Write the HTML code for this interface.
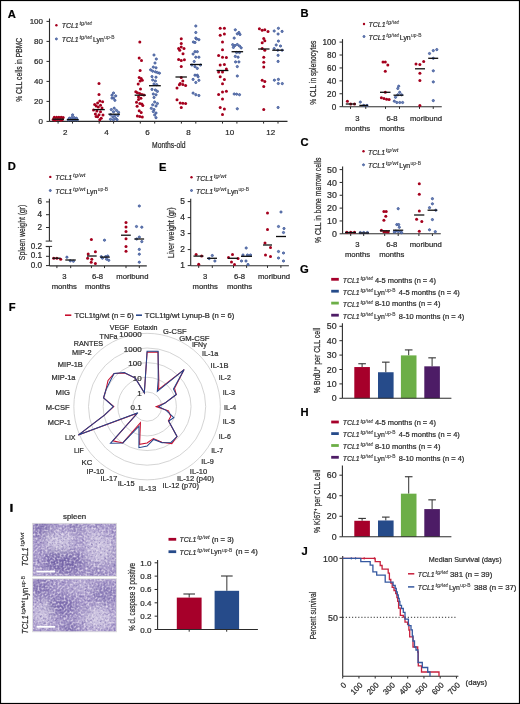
<!DOCTYPE html>
<html><head><meta charset="utf-8"><style>html,body{margin:0;padding:0;background:#fff;}svg{display:block;}</style></head>
<body>
<svg width="520" height="704" viewBox="0 0 520 704" font-family='"Liberation Sans", sans-serif' fill="#2a2a2a">
<style>text{stroke:#2a2a2a;stroke-width:0.22px;paint-order:stroke;} text.sup{stroke-width:0.06px;}</style>
<defs><filter id="fine" x="0" y="0" width="100%" height="100%" color-interpolation-filters="sRGB"><feTurbulence type="fractalNoise" baseFrequency="0.5" numOctaves="2" seed="2" result="n1"/><feColorMatrix in="n1" type="matrix" values="0 0 0 0 0.93  0 0 0 0 0.9  0 0 0 0 0.95  2.1 0 0 0 -0.86" result="wl"/><feTurbulence type="fractalNoise" baseFrequency="0.45" numOctaves="2" seed="9" result="n3"/><feColorMatrix in="n3" type="matrix" values="0 0 0 0 0.45  0 0 0 0 0.39  0 0 0 0 0.65  0 0 1.8 0 -0.83" result="dl"/><feMerge result="m"><feMergeNode in="dl"/><feMergeNode in="wl"/></feMerge><feGaussianBlur in="m" stdDeviation="0.45"/></filter><filter id="soft" x="-50%" y="-50%" width="200%" height="200%"><feGaussianBlur stdDeviation="4.5"/></filter><clipPath id="hc1"><rect x="32.6" y="523.3" width="84" height="53"/></clipPath><clipPath id="hc2"><rect x="32.6" y="578.8" width="84" height="53"/></clipPath><filter id="soften" x="0" y="0" width="100%" height="100%"><feGaussianBlur stdDeviation="0.3"/></filter></defs>
<rect x="0" y="0" width="520" height="704" fill="#fff"/>
<g filter="url(#soften)">
<text x="7.7" y="17.5" font-size="11.2" font-weight="bold" fill="#000" >A</text>
<line x1="49.5" y1="18.5" x2="49.5" y2="121.4" stroke="#2b2b2b" stroke-width="1.1" />
<line x1="46.5" y1="121.4" x2="49.5" y2="121.4" stroke="#2b2b2b" stroke-width="1" />
<text x="43" y="124.4" font-size="8" text-anchor="end" >0</text>
<line x1="46.5" y1="101.4" x2="49.5" y2="101.4" stroke="#2b2b2b" stroke-width="1" />
<text x="43" y="104.4" font-size="8" text-anchor="end" >20</text>
<line x1="46.5" y1="81.4" x2="49.5" y2="81.4" stroke="#2b2b2b" stroke-width="1" />
<text x="43" y="84.4" font-size="8" text-anchor="end" >40</text>
<line x1="46.5" y1="61.4" x2="49.5" y2="61.4" stroke="#2b2b2b" stroke-width="1" />
<text x="43" y="64.4" font-size="8" text-anchor="end" >60</text>
<line x1="46.5" y1="41.4" x2="49.5" y2="41.4" stroke="#2b2b2b" stroke-width="1" />
<text x="43" y="44.4" font-size="8" text-anchor="end" >80</text>
<line x1="46.5" y1="21.4" x2="49.5" y2="21.4" stroke="#2b2b2b" stroke-width="1" />
<text x="43" y="24.4" font-size="8" text-anchor="end" >100</text>
<line x1="49.5" y1="121.4" x2="287.5" y2="121.4" stroke="#2b2b2b" stroke-width="1.1" />
<line x1="58.1" y1="121.4" x2="58.1" y2="123.6" stroke="#2b2b2b" stroke-width="1" />
<line x1="72.5" y1="121.4" x2="72.5" y2="123.6" stroke="#2b2b2b" stroke-width="1" />
<line x1="99.2" y1="121.4" x2="99.2" y2="123.6" stroke="#2b2b2b" stroke-width="1" />
<line x1="113.6" y1="121.4" x2="113.6" y2="123.6" stroke="#2b2b2b" stroke-width="1" />
<line x1="140.3" y1="121.4" x2="140.3" y2="123.6" stroke="#2b2b2b" stroke-width="1" />
<line x1="154.7" y1="121.4" x2="154.7" y2="123.6" stroke="#2b2b2b" stroke-width="1" />
<line x1="181.4" y1="121.4" x2="181.4" y2="123.6" stroke="#2b2b2b" stroke-width="1" />
<line x1="195.8" y1="121.4" x2="195.8" y2="123.6" stroke="#2b2b2b" stroke-width="1" />
<line x1="222.5" y1="121.4" x2="222.5" y2="123.6" stroke="#2b2b2b" stroke-width="1" />
<line x1="236.9" y1="121.4" x2="236.9" y2="123.6" stroke="#2b2b2b" stroke-width="1" />
<line x1="263.6" y1="121.4" x2="263.6" y2="123.6" stroke="#2b2b2b" stroke-width="1" />
<line x1="278" y1="121.4" x2="278" y2="123.6" stroke="#2b2b2b" stroke-width="1" />
<text x="65.3" y="135.2" font-size="8" text-anchor="middle" >2</text>
<text x="106.4" y="135.2" font-size="8" text-anchor="middle" >4</text>
<text x="147.5" y="135.2" font-size="8" text-anchor="middle" >6</text>
<text x="188.6" y="135.2" font-size="8" text-anchor="middle" >8</text>
<text x="229.7" y="135.2" font-size="8" text-anchor="middle" >10</text>
<text x="270.8" y="135.2" font-size="8" text-anchor="middle" >12</text>
<text x="168.8" y="147.6" font-size="9" text-anchor="middle" textLength="33.5" lengthAdjust="spacingAndGlyphs" >Months-old</text>
<text x="22.4" y="69.8" font-size="9" text-anchor="middle" textLength="64" lengthAdjust="spacingAndGlyphs" transform="rotate(-90 22.4 69.8)" >% CLL cells in PBMC</text>
<circle cx="56.4" cy="25.2" r="1.2" fill="#a5001f"/>
<g transform="translate(61.9 28.2)"><text x="-0.2" y="0.1" font-size="8" font-style="italic" textLength="16.9" lengthAdjust="spacingAndGlyphs">TCL1</text><text x="17.5" y="-2.8" font-size="5.4" font-style="italic" class="sup" textLength="12.5" lengthAdjust="spacingAndGlyphs">tg/wt</text></g>
<circle cx="56.4" cy="38.9" r="1.0" fill="#6e84b8" stroke="#40599a" stroke-width="0.9"/>
<g transform="translate(61.9 41.8)"><text x="-0.2" y="0.1" font-size="8" font-style="italic" textLength="16.9" lengthAdjust="spacingAndGlyphs">TCL1</text><text x="17.5" y="-2.8" font-size="5.4" font-style="italic" class="sup" textLength="12.5" lengthAdjust="spacingAndGlyphs">tg/wt</text><text x="31" y="0" font-size="7.7" textLength="10.9" lengthAdjust="spacingAndGlyphs">Lyn</text><text x="42.3" y="-2.8" font-size="5.4" class="sup" textLength="10.3" lengthAdjust="spacingAndGlyphs">up-B</text></g>
<circle cx="53.2" cy="119.5" r="1.5" fill="#a5001f"/>
<circle cx="55.5" cy="119.5" r="1.5" fill="#a5001f"/>
<circle cx="57.8" cy="119.5" r="1.5" fill="#a5001f"/>
<circle cx="60.1" cy="119.5" r="1.5" fill="#a5001f"/>
<circle cx="62.4" cy="119.5" r="1.5" fill="#a5001f"/>
<circle cx="54.3" cy="117.2" r="1.5" fill="#a5001f"/>
<circle cx="56.6" cy="117.2" r="1.5" fill="#a5001f"/>
<circle cx="58.9" cy="117.2" r="1.5" fill="#a5001f"/>
<circle cx="61.2" cy="117.2" r="1.5" fill="#a5001f"/>
<circle cx="63.2" cy="117.6" r="1.5" fill="#a5001f"/>
<circle cx="55" cy="120.3" r="1.5" fill="#a5001f"/>
<circle cx="61" cy="120.3" r="1.5" fill="#a5001f"/>
<circle cx="68.2" cy="119.8" r="1.1" fill="#6e84b8" stroke="#40599a" stroke-width="0.9"/>
<circle cx="70.5" cy="119.8" r="1.1" fill="#6e84b8" stroke="#40599a" stroke-width="0.9"/>
<circle cx="72.8" cy="119.8" r="1.1" fill="#6e84b8" stroke="#40599a" stroke-width="0.9"/>
<circle cx="75.1" cy="119.8" r="1.1" fill="#6e84b8" stroke="#40599a" stroke-width="0.9"/>
<circle cx="77.4" cy="119.8" r="1.1" fill="#6e84b8" stroke="#40599a" stroke-width="0.9"/>
<circle cx="69.5" cy="118.2" r="1.1" fill="#6e84b8" stroke="#40599a" stroke-width="0.9"/>
<circle cx="71.8" cy="117.6" r="1.1" fill="#6e84b8" stroke="#40599a" stroke-width="0.9"/>
<circle cx="74.1" cy="117.6" r="1.1" fill="#6e84b8" stroke="#40599a" stroke-width="0.9"/>
<circle cx="76.4" cy="118.2" r="1.1" fill="#6e84b8" stroke="#40599a" stroke-width="0.9"/>
<circle cx="72.6" cy="114.9" r="1.1" fill="#6e84b8" stroke="#40599a" stroke-width="0.9"/>
<circle cx="99" cy="83.4" r="1.5" fill="#a5001f"/>
<circle cx="99" cy="94.5" r="1.5" fill="#a5001f"/>
<circle cx="99.8" cy="101" r="1.5" fill="#a5001f"/>
<circle cx="97.6" cy="103.1" r="1.5" fill="#a5001f"/>
<circle cx="102.6" cy="101.7" r="1.5" fill="#a5001f"/>
<circle cx="94.7" cy="104.6" r="1.5" fill="#a5001f"/>
<circle cx="100.5" cy="105.3" r="1.5" fill="#a5001f"/>
<circle cx="96.2" cy="106.1" r="1.5" fill="#a5001f"/>
<circle cx="98.3" cy="107" r="1.5" fill="#a5001f"/>
<circle cx="96.9" cy="111.1" r="1.5" fill="#a5001f"/>
<circle cx="100.5" cy="111.8" r="1.5" fill="#a5001f"/>
<circle cx="95.4" cy="114" r="1.5" fill="#a5001f"/>
<circle cx="99" cy="114.7" r="1.5" fill="#a5001f"/>
<circle cx="97.6" cy="116.8" r="1.5" fill="#a5001f"/>
<circle cx="101.2" cy="118.3" r="1.5" fill="#a5001f"/>
<circle cx="96.1" cy="116.5" r="1.5" fill="#a5001f"/>
<circle cx="99.8" cy="119.7" r="1.5" fill="#a5001f"/>
<circle cx="103" cy="115" r="1.5" fill="#a5001f"/>
<circle cx="93.5" cy="110" r="1.5" fill="#a5001f"/>
<circle cx="102" cy="108" r="1.5" fill="#a5001f"/>
<circle cx="113.5" cy="93" r="1.1" fill="#6e84b8" stroke="#40599a" stroke-width="0.9"/>
<circle cx="112" cy="95.2" r="1.1" fill="#6e84b8" stroke="#40599a" stroke-width="0.9"/>
<circle cx="115.7" cy="95.9" r="1.1" fill="#6e84b8" stroke="#40599a" stroke-width="0.9"/>
<circle cx="113.5" cy="98.1" r="1.1" fill="#6e84b8" stroke="#40599a" stroke-width="0.9"/>
<circle cx="114.9" cy="100.3" r="1.1" fill="#6e84b8" stroke="#40599a" stroke-width="0.9"/>
<circle cx="112" cy="98.1" r="1.1" fill="#6e84b8" stroke="#40599a" stroke-width="0.9"/>
<circle cx="114.2" cy="108.2" r="1.1" fill="#6e84b8" stroke="#40599a" stroke-width="0.9"/>
<circle cx="111.3" cy="109.6" r="1.1" fill="#6e84b8" stroke="#40599a" stroke-width="0.9"/>
<circle cx="116.4" cy="110.4" r="1.1" fill="#6e84b8" stroke="#40599a" stroke-width="0.9"/>
<circle cx="113.5" cy="111.8" r="1.1" fill="#6e84b8" stroke="#40599a" stroke-width="0.9"/>
<circle cx="110.6" cy="114.7" r="1.1" fill="#6e84b8" stroke="#40599a" stroke-width="0.9"/>
<circle cx="114.9" cy="115.4" r="1.1" fill="#6e84b8" stroke="#40599a" stroke-width="0.9"/>
<circle cx="117.8" cy="115.4" r="1.1" fill="#6e84b8" stroke="#40599a" stroke-width="0.9"/>
<circle cx="112.8" cy="116.8" r="1.1" fill="#6e84b8" stroke="#40599a" stroke-width="0.9"/>
<circle cx="115.6" cy="118.3" r="1.1" fill="#6e84b8" stroke="#40599a" stroke-width="0.9"/>
<circle cx="113.5" cy="119.7" r="1.1" fill="#6e84b8" stroke="#40599a" stroke-width="0.9"/>
<circle cx="117.1" cy="119.7" r="1.1" fill="#6e84b8" stroke="#40599a" stroke-width="0.9"/>
<circle cx="110.5" cy="119.3" r="1.1" fill="#6e84b8" stroke="#40599a" stroke-width="0.9"/>
<circle cx="118.5" cy="112.3" r="1.1" fill="#6e84b8" stroke="#40599a" stroke-width="0.9"/>
<circle cx="139.8" cy="42.1" r="1.5" fill="#a5001f"/>
<circle cx="139.2" cy="58.1" r="1.5" fill="#a5001f"/>
<circle cx="141.5" cy="60.4" r="1.5" fill="#a5001f"/>
<circle cx="140.1" cy="70.5" r="1.5" fill="#a5001f"/>
<circle cx="139.2" cy="77.5" r="1.5" fill="#a5001f"/>
<circle cx="141.2" cy="78.6" r="1.5" fill="#a5001f"/>
<circle cx="142.3" cy="80.2" r="1.5" fill="#a5001f"/>
<circle cx="140.1" cy="81" r="1.5" fill="#a5001f"/>
<circle cx="138.2" cy="84" r="1.5" fill="#a5001f"/>
<circle cx="140.5" cy="89.1" r="1.5" fill="#a5001f"/>
<circle cx="135.8" cy="91.8" r="1.5" fill="#a5001f"/>
<circle cx="137.4" cy="92.8" r="1.5" fill="#a5001f"/>
<circle cx="139.6" cy="93.4" r="1.5" fill="#a5001f"/>
<circle cx="141.9" cy="94.5" r="1.5" fill="#a5001f"/>
<circle cx="143.9" cy="95" r="1.5" fill="#a5001f"/>
<circle cx="138.5" cy="96.8" r="1.5" fill="#a5001f"/>
<circle cx="140.9" cy="98.2" r="1.5" fill="#a5001f"/>
<circle cx="138.5" cy="99.5" r="1.5" fill="#a5001f"/>
<circle cx="136.5" cy="102.2" r="1.5" fill="#a5001f"/>
<circle cx="139.8" cy="103.5" r="1.5" fill="#a5001f"/>
<circle cx="141.9" cy="104" r="1.5" fill="#a5001f"/>
<circle cx="137.1" cy="106.2" r="1.5" fill="#a5001f"/>
<circle cx="142.8" cy="105.6" r="1.5" fill="#a5001f"/>
<circle cx="139.2" cy="110.7" r="1.5" fill="#a5001f"/>
<circle cx="141.2" cy="112.6" r="1.5" fill="#a5001f"/>
<circle cx="137.4" cy="116.1" r="1.5" fill="#a5001f"/>
<circle cx="139.8" cy="116.6" r="1.5" fill="#a5001f"/>
<circle cx="142.3" cy="117" r="1.5" fill="#a5001f"/>
<circle cx="154" cy="55" r="1.1" fill="#6e84b8" stroke="#40599a" stroke-width="0.9"/>
<circle cx="156.3" cy="59" r="1.1" fill="#6e84b8" stroke="#40599a" stroke-width="0.9"/>
<circle cx="155" cy="63" r="1.1" fill="#6e84b8" stroke="#40599a" stroke-width="0.9"/>
<circle cx="153.3" cy="67.1" r="1.1" fill="#6e84b8" stroke="#40599a" stroke-width="0.9"/>
<circle cx="156" cy="67.8" r="1.1" fill="#6e84b8" stroke="#40599a" stroke-width="0.9"/>
<circle cx="150.6" cy="69.8" r="1.1" fill="#6e84b8" stroke="#40599a" stroke-width="0.9"/>
<circle cx="152.7" cy="71.2" r="1.1" fill="#6e84b8" stroke="#40599a" stroke-width="0.9"/>
<circle cx="155.4" cy="71.8" r="1.1" fill="#6e84b8" stroke="#40599a" stroke-width="0.9"/>
<circle cx="157.4" cy="72.5" r="1.1" fill="#6e84b8" stroke="#40599a" stroke-width="0.9"/>
<circle cx="159.4" cy="73.2" r="1.1" fill="#6e84b8" stroke="#40599a" stroke-width="0.9"/>
<circle cx="152" cy="76.6" r="1.1" fill="#6e84b8" stroke="#40599a" stroke-width="0.9"/>
<circle cx="156" cy="77.2" r="1.1" fill="#6e84b8" stroke="#40599a" stroke-width="0.9"/>
<circle cx="152.7" cy="80" r="1.1" fill="#6e84b8" stroke="#40599a" stroke-width="0.9"/>
<circle cx="155.4" cy="81" r="1.1" fill="#6e84b8" stroke="#40599a" stroke-width="0.9"/>
<circle cx="154" cy="84" r="1.1" fill="#6e84b8" stroke="#40599a" stroke-width="0.9"/>
<circle cx="156.7" cy="84.7" r="1.1" fill="#6e84b8" stroke="#40599a" stroke-width="0.9"/>
<circle cx="152" cy="89.4" r="1.1" fill="#6e84b8" stroke="#40599a" stroke-width="0.9"/>
<circle cx="155.4" cy="90" r="1.1" fill="#6e84b8" stroke="#40599a" stroke-width="0.9"/>
<circle cx="157.4" cy="91.4" r="1.1" fill="#6e84b8" stroke="#40599a" stroke-width="0.9"/>
<circle cx="153.3" cy="94" r="1.1" fill="#6e84b8" stroke="#40599a" stroke-width="0.9"/>
<circle cx="156" cy="94.8" r="1.1" fill="#6e84b8" stroke="#40599a" stroke-width="0.9"/>
<circle cx="154" cy="97.5" r="1.1" fill="#6e84b8" stroke="#40599a" stroke-width="0.9"/>
<circle cx="154.7" cy="102" r="1.1" fill="#6e84b8" stroke="#40599a" stroke-width="0.9"/>
<circle cx="157.4" cy="103.5" r="1.1" fill="#6e84b8" stroke="#40599a" stroke-width="0.9"/>
<circle cx="152.7" cy="104.8" r="1.1" fill="#6e84b8" stroke="#40599a" stroke-width="0.9"/>
<circle cx="156" cy="106" r="1.1" fill="#6e84b8" stroke="#40599a" stroke-width="0.9"/>
<circle cx="151.3" cy="108.3" r="1.1" fill="#6e84b8" stroke="#40599a" stroke-width="0.9"/>
<circle cx="154" cy="109.6" r="1.1" fill="#6e84b8" stroke="#40599a" stroke-width="0.9"/>
<circle cx="153.3" cy="111.6" r="1.1" fill="#6e84b8" stroke="#40599a" stroke-width="0.9"/>
<circle cx="156" cy="113" r="1.1" fill="#6e84b8" stroke="#40599a" stroke-width="0.9"/>
<circle cx="154.7" cy="115" r="1.1" fill="#6e84b8" stroke="#40599a" stroke-width="0.9"/>
<circle cx="156" cy="117.7" r="1.1" fill="#6e84b8" stroke="#40599a" stroke-width="0.9"/>
<circle cx="181.25" cy="38.75" r="1.5" fill="#a5001f"/>
<circle cx="181.25" cy="43.4" r="1.5" fill="#a5001f"/>
<circle cx="181.25" cy="47" r="1.5" fill="#a5001f"/>
<circle cx="178.6" cy="48.6" r="1.5" fill="#a5001f"/>
<circle cx="184" cy="48.6" r="1.5" fill="#a5001f"/>
<circle cx="179.7" cy="50.2" r="1.5" fill="#a5001f"/>
<circle cx="183" cy="53.75" r="1.5" fill="#a5001f"/>
<circle cx="178.6" cy="59.5" r="1.5" fill="#a5001f"/>
<circle cx="181.25" cy="60.5" r="1.5" fill="#a5001f"/>
<circle cx="184.4" cy="59.8" r="1.5" fill="#a5001f"/>
<circle cx="181.25" cy="66.5" r="1.5" fill="#a5001f"/>
<circle cx="181.25" cy="77.5" r="1.5" fill="#a5001f"/>
<circle cx="182.8" cy="81" r="1.5" fill="#a5001f"/>
<circle cx="180.2" cy="83.5" r="1.5" fill="#a5001f"/>
<circle cx="182.8" cy="84.6" r="1.5" fill="#a5001f"/>
<circle cx="185.6" cy="85.6" r="1.5" fill="#a5001f"/>
<circle cx="179.4" cy="84.8" r="1.5" fill="#a5001f"/>
<circle cx="177" cy="88" r="1.5" fill="#a5001f"/>
<circle cx="177" cy="99.7" r="1.5" fill="#a5001f"/>
<circle cx="180.2" cy="103" r="1.5" fill="#a5001f"/>
<circle cx="182.8" cy="103.3" r="1.5" fill="#a5001f"/>
<circle cx="185.6" cy="103.5" r="1.5" fill="#a5001f"/>
<circle cx="181.25" cy="107.5" r="1.5" fill="#a5001f"/>
<circle cx="195.8" cy="26" r="1.1" fill="#6e84b8" stroke="#40599a" stroke-width="0.9"/>
<circle cx="195.8" cy="32.5" r="1.1" fill="#6e84b8" stroke="#40599a" stroke-width="0.9"/>
<circle cx="195.8" cy="38.1" r="1.1" fill="#6e84b8" stroke="#40599a" stroke-width="0.9"/>
<circle cx="198.9" cy="39.7" r="1.1" fill="#6e84b8" stroke="#40599a" stroke-width="0.9"/>
<circle cx="196.6" cy="39" r="1.1" fill="#6e84b8" stroke="#40599a" stroke-width="0.9"/>
<circle cx="193.4" cy="42" r="1.1" fill="#6e84b8" stroke="#40599a" stroke-width="0.9"/>
<circle cx="195" cy="42.5" r="1.1" fill="#6e84b8" stroke="#40599a" stroke-width="0.9"/>
<circle cx="195" cy="51.7" r="1.1" fill="#6e84b8" stroke="#40599a" stroke-width="0.9"/>
<circle cx="197.3" cy="51.7" r="1.1" fill="#6e84b8" stroke="#40599a" stroke-width="0.9"/>
<circle cx="193.1" cy="54" r="1.1" fill="#6e84b8" stroke="#40599a" stroke-width="0.9"/>
<circle cx="195.8" cy="57.2" r="1.1" fill="#6e84b8" stroke="#40599a" stroke-width="0.9"/>
<circle cx="198.9" cy="57.2" r="1.1" fill="#6e84b8" stroke="#40599a" stroke-width="0.9"/>
<circle cx="194.2" cy="61.5" r="1.1" fill="#6e84b8" stroke="#40599a" stroke-width="0.9"/>
<circle cx="191.9" cy="65" r="1.1" fill="#6e84b8" stroke="#40599a" stroke-width="0.9"/>
<circle cx="200.5" cy="65" r="1.1" fill="#6e84b8" stroke="#40599a" stroke-width="0.9"/>
<circle cx="195" cy="66.6" r="1.1" fill="#6e84b8" stroke="#40599a" stroke-width="0.9"/>
<circle cx="197.3" cy="68.4" r="1.1" fill="#6e84b8" stroke="#40599a" stroke-width="0.9"/>
<circle cx="195" cy="75.2" r="1.1" fill="#6e84b8" stroke="#40599a" stroke-width="0.9"/>
<circle cx="197.3" cy="75.2" r="1.1" fill="#6e84b8" stroke="#40599a" stroke-width="0.9"/>
<circle cx="198.1" cy="76.7" r="1.1" fill="#6e84b8" stroke="#40599a" stroke-width="0.9"/>
<circle cx="193.1" cy="79.4" r="1.1" fill="#6e84b8" stroke="#40599a" stroke-width="0.9"/>
<circle cx="198.9" cy="80.3" r="1.1" fill="#6e84b8" stroke="#40599a" stroke-width="0.9"/>
<circle cx="195.8" cy="82.5" r="1.1" fill="#6e84b8" stroke="#40599a" stroke-width="0.9"/>
<circle cx="193.1" cy="93.1" r="1.1" fill="#6e84b8" stroke="#40599a" stroke-width="0.9"/>
<circle cx="195.8" cy="94.7" r="1.1" fill="#6e84b8" stroke="#40599a" stroke-width="0.9"/>
<circle cx="198.9" cy="95.5" r="1.1" fill="#6e84b8" stroke="#40599a" stroke-width="0.9"/>
<circle cx="220.2" cy="28.3" r="1.5" fill="#a5001f"/>
<circle cx="224.4" cy="28.3" r="1.5" fill="#a5001f"/>
<circle cx="220.2" cy="35.3" r="1.5" fill="#a5001f"/>
<circle cx="224.4" cy="34" r="1.5" fill="#a5001f"/>
<circle cx="222.5" cy="41.9" r="1.5" fill="#a5001f"/>
<circle cx="222.5" cy="49.7" r="1.5" fill="#a5001f"/>
<circle cx="218.6" cy="55.6" r="1.5" fill="#a5001f"/>
<circle cx="222.5" cy="57.2" r="1.5" fill="#a5001f"/>
<circle cx="226.4" cy="57.6" r="1.5" fill="#a5001f"/>
<circle cx="220.2" cy="65" r="1.5" fill="#a5001f"/>
<circle cx="224.4" cy="64.5" r="1.5" fill="#a5001f"/>
<circle cx="226.4" cy="69" r="1.5" fill="#a5001f"/>
<circle cx="218.6" cy="72" r="1.5" fill="#a5001f"/>
<circle cx="222.5" cy="72" r="1.5" fill="#a5001f"/>
<circle cx="220.2" cy="76.7" r="1.5" fill="#a5001f"/>
<circle cx="224.4" cy="79.4" r="1.5" fill="#a5001f"/>
<circle cx="222.5" cy="83.75" r="1.5" fill="#a5001f"/>
<circle cx="226.4" cy="91.2" r="1.5" fill="#a5001f"/>
<circle cx="222.5" cy="91.9" r="1.5" fill="#a5001f"/>
<circle cx="218.6" cy="94.4" r="1.5" fill="#a5001f"/>
<circle cx="222.5" cy="98.9" r="1.5" fill="#a5001f"/>
<circle cx="220.2" cy="107.5" r="1.5" fill="#a5001f"/>
<circle cx="224.4" cy="109.1" r="1.5" fill="#a5001f"/>
<circle cx="222.5" cy="114.4" r="1.5" fill="#a5001f"/>
<circle cx="259.4" cy="28.75" r="1.5" fill="#a5001f"/>
<circle cx="262.2" cy="30.3" r="1.5" fill="#a5001f"/>
<circle cx="264.8" cy="29.8" r="1.5" fill="#a5001f"/>
<circle cx="268" cy="31.4" r="1.5" fill="#a5001f"/>
<circle cx="263.75" cy="38.4" r="1.5" fill="#a5001f"/>
<circle cx="264.8" cy="40.8" r="1.5" fill="#a5001f"/>
<circle cx="262.2" cy="42.8" r="1.5" fill="#a5001f"/>
<circle cx="262.2" cy="48.6" r="1.5" fill="#a5001f"/>
<circle cx="264.8" cy="50.2" r="1.5" fill="#a5001f"/>
<circle cx="263.75" cy="57.2" r="1.5" fill="#a5001f"/>
<circle cx="263.75" cy="62.3" r="1.5" fill="#a5001f"/>
<circle cx="263.75" cy="66.9" r="1.5" fill="#a5001f"/>
<circle cx="262.2" cy="80.3" r="1.5" fill="#a5001f"/>
<circle cx="264.8" cy="81.4" r="1.5" fill="#a5001f"/>
<circle cx="263.75" cy="86.6" r="1.5" fill="#a5001f"/>
<circle cx="263.75" cy="109.5" r="1.5" fill="#a5001f"/>
<circle cx="278.4" cy="28.3" r="1.1" fill="#6e84b8" stroke="#40599a" stroke-width="0.9"/>
<circle cx="274.2" cy="31" r="1.1" fill="#6e84b8" stroke="#40599a" stroke-width="0.9"/>
<circle cx="282.1" cy="31.4" r="1.1" fill="#6e84b8" stroke="#40599a" stroke-width="0.9"/>
<circle cx="278.1" cy="34" r="1.1" fill="#6e84b8" stroke="#40599a" stroke-width="0.9"/>
<circle cx="278.4" cy="41.1" r="1.1" fill="#6e84b8" stroke="#40599a" stroke-width="0.9"/>
<circle cx="276.2" cy="45" r="1.1" fill="#6e84b8" stroke="#40599a" stroke-width="0.9"/>
<circle cx="280.5" cy="46" r="1.1" fill="#6e84b8" stroke="#40599a" stroke-width="0.9"/>
<circle cx="274.2" cy="48.6" r="1.1" fill="#6e84b8" stroke="#40599a" stroke-width="0.9"/>
<circle cx="277.8" cy="50.2" r="1.1" fill="#6e84b8" stroke="#40599a" stroke-width="0.9"/>
<circle cx="282.1" cy="50.2" r="1.1" fill="#6e84b8" stroke="#40599a" stroke-width="0.9"/>
<circle cx="278.1" cy="55.3" r="1.1" fill="#6e84b8" stroke="#40599a" stroke-width="0.9"/>
<circle cx="278.1" cy="61.4" r="1.1" fill="#6e84b8" stroke="#40599a" stroke-width="0.9"/>
<circle cx="274.4" cy="80.2" r="1.1" fill="#6e84b8" stroke="#40599a" stroke-width="0.9"/>
<circle cx="278.4" cy="79.4" r="1.1" fill="#6e84b8" stroke="#40599a" stroke-width="0.9"/>
<circle cx="278.3" cy="83.5" r="1.1" fill="#6e84b8" stroke="#40599a" stroke-width="0.9"/>
<circle cx="282.3" cy="83.6" r="1.1" fill="#6e84b8" stroke="#40599a" stroke-width="0.9"/>
<circle cx="278.1" cy="107.5" r="1.1" fill="#6e84b8" stroke="#40599a" stroke-width="0.9"/>
<circle cx="235.3" cy="29.8" r="1.1" fill="#6e84b8" stroke="#40599a" stroke-width="0.9"/>
<circle cx="238.9" cy="32.5" r="1.1" fill="#6e84b8" stroke="#40599a" stroke-width="0.9"/>
<circle cx="237.3" cy="33.8" r="1.1" fill="#6e84b8" stroke="#40599a" stroke-width="0.9"/>
<circle cx="240" cy="34.5" r="1.1" fill="#6e84b8" stroke="#40599a" stroke-width="0.9"/>
<circle cx="234.2" cy="38.1" r="1.1" fill="#6e84b8" stroke="#40599a" stroke-width="0.9"/>
<circle cx="232.7" cy="44.7" r="1.1" fill="#6e84b8" stroke="#40599a" stroke-width="0.9"/>
<circle cx="235" cy="45.5" r="1.1" fill="#6e84b8" stroke="#40599a" stroke-width="0.9"/>
<circle cx="237.3" cy="44.5" r="1.1" fill="#6e84b8" stroke="#40599a" stroke-width="0.9"/>
<circle cx="239.5" cy="46" r="1.1" fill="#6e84b8" stroke="#40599a" stroke-width="0.9"/>
<circle cx="233.4" cy="47.4" r="1.1" fill="#6e84b8" stroke="#40599a" stroke-width="0.9"/>
<circle cx="241.2" cy="47.8" r="1.1" fill="#6e84b8" stroke="#40599a" stroke-width="0.9"/>
<circle cx="236.6" cy="52.5" r="1.1" fill="#6e84b8" stroke="#40599a" stroke-width="0.9"/>
<circle cx="239.5" cy="52.5" r="1.1" fill="#6e84b8" stroke="#40599a" stroke-width="0.9"/>
<circle cx="235.3" cy="56.4" r="1.1" fill="#6e84b8" stroke="#40599a" stroke-width="0.9"/>
<circle cx="238.1" cy="57.2" r="1.1" fill="#6e84b8" stroke="#40599a" stroke-width="0.9"/>
<circle cx="235.6" cy="61.9" r="1.1" fill="#6e84b8" stroke="#40599a" stroke-width="0.9"/>
<circle cx="238.9" cy="61.9" r="1.1" fill="#6e84b8" stroke="#40599a" stroke-width="0.9"/>
<circle cx="237.3" cy="66.6" r="1.1" fill="#6e84b8" stroke="#40599a" stroke-width="0.9"/>
<circle cx="237.3" cy="76" r="1.1" fill="#6e84b8" stroke="#40599a" stroke-width="0.9"/>
<circle cx="234.2" cy="94" r="1.1" fill="#6e84b8" stroke="#40599a" stroke-width="0.9"/>
<circle cx="236.6" cy="94.2" r="1.1" fill="#6e84b8" stroke="#40599a" stroke-width="0.9"/>
<circle cx="239.5" cy="94.7" r="1.1" fill="#6e84b8" stroke="#40599a" stroke-width="0.9"/>
<circle cx="237.3" cy="108.75" r="1.1" fill="#6e84b8" stroke="#40599a" stroke-width="0.9"/>
<line x1="52.5" y1="119.2" x2="64" y2="119.2" stroke="#111" stroke-width="1.3" />
<line x1="67" y1="119.6" x2="78.5" y2="119.6" stroke="#111" stroke-width="1.3" />
<line x1="93.3" y1="109.6" x2="104.8" y2="109.6" stroke="#111" stroke-width="1.3" />
<line x1="108.4" y1="114.2" x2="120" y2="114.2" stroke="#111" stroke-width="1.3" />
<line x1="134.7" y1="95.2" x2="145.9" y2="95.2" stroke="#111" stroke-width="1.3" />
<line x1="149" y1="85.7" x2="160.8" y2="85.7" stroke="#111" stroke-width="1.3" />
<line x1="175.5" y1="77" x2="186.9" y2="77" stroke="#111" stroke-width="1.3" />
<line x1="190" y1="64.5" x2="202" y2="64.5" stroke="#111" stroke-width="1.3" />
<line x1="216.6" y1="70.5" x2="228.4" y2="70.5" stroke="#111" stroke-width="1.3" />
<line x1="231.6" y1="51.7" x2="243.1" y2="51.7" stroke="#111" stroke-width="1.3" />
<line x1="258.1" y1="49" x2="269.5" y2="49" stroke="#111" stroke-width="1.3" />
<line x1="272.2" y1="50.2" x2="283.6" y2="50.2" stroke="#111" stroke-width="1.3" />
<text x="300.6" y="17.3" font-size="11.2" font-weight="bold" fill="#000" >B</text>
<circle cx="364" cy="24" r="1.2" fill="#a5001f"/>
<g transform="translate(368.8 27.2)"><text x="-0.2" y="0.1" font-size="8" font-style="italic" textLength="16.9" lengthAdjust="spacingAndGlyphs">TCL1</text><text x="17.5" y="-2.8" font-size="5.4" font-style="italic" class="sup" textLength="12.5" lengthAdjust="spacingAndGlyphs">tg/wt</text></g>
<circle cx="364" cy="36.5" r="1.0" fill="#6e84b8" stroke="#40599a" stroke-width="0.9"/>
<g transform="translate(368.8 39.6)"><text x="-0.2" y="0.1" font-size="8" font-style="italic" textLength="16.9" lengthAdjust="spacingAndGlyphs">TCL1</text><text x="17.5" y="-2.8" font-size="5.4" font-style="italic" class="sup" textLength="12.5" lengthAdjust="spacingAndGlyphs">tg/wt</text><text x="31" y="0" font-size="7.7" textLength="10.9" lengthAdjust="spacingAndGlyphs">Lyn</text><text x="42.3" y="-2.8" font-size="5.4" class="sup" textLength="10.3" lengthAdjust="spacingAndGlyphs">up-B</text></g>
<line x1="342.5" y1="39.1" x2="342.5" y2="106.7" stroke="#2b2b2b" stroke-width="1.1" />
<line x1="339.5" y1="106.7" x2="342.5" y2="106.7" stroke="#2b2b2b" stroke-width="1" />
<text x="336.2" y="109.9" font-size="8.2" text-anchor="end" >0</text>
<line x1="339.5" y1="93.78" x2="342.5" y2="93.78" stroke="#2b2b2b" stroke-width="1" />
<text x="336.2" y="96.98" font-size="8.2" text-anchor="end" >20</text>
<line x1="339.5" y1="80.86" x2="342.5" y2="80.86" stroke="#2b2b2b" stroke-width="1" />
<text x="336.2" y="84.06" font-size="8.2" text-anchor="end" >40</text>
<line x1="339.5" y1="67.94" x2="342.5" y2="67.94" stroke="#2b2b2b" stroke-width="1" />
<text x="336.2" y="71.14" font-size="8.2" text-anchor="end" >60</text>
<line x1="339.5" y1="55.02" x2="342.5" y2="55.02" stroke="#2b2b2b" stroke-width="1" />
<text x="336.2" y="58.22" font-size="8.2" text-anchor="end" >80</text>
<line x1="339.5" y1="42.1" x2="342.5" y2="42.1" stroke="#2b2b2b" stroke-width="1" />
<text x="336.2" y="45.3" font-size="8.2" text-anchor="end" >100</text>
<line x1="342.5" y1="106.7" x2="441.75" y2="106.7" stroke="#2b2b2b" stroke-width="1.1" />
<line x1="350.5" y1="106.7" x2="350.5" y2="108.9" stroke="#2b2b2b" stroke-width="1" />
<line x1="365.75" y1="106.7" x2="365.75" y2="108.9" stroke="#2b2b2b" stroke-width="1" />
<line x1="385.5" y1="106.7" x2="385.5" y2="108.9" stroke="#2b2b2b" stroke-width="1" />
<line x1="399.5" y1="106.7" x2="399.5" y2="108.9" stroke="#2b2b2b" stroke-width="1" />
<line x1="419.5" y1="106.7" x2="419.5" y2="108.9" stroke="#2b2b2b" stroke-width="1" />
<line x1="433.25" y1="106.7" x2="433.25" y2="108.9" stroke="#2b2b2b" stroke-width="1" />
<text x="357.5" y="120.9" font-size="7.7" text-anchor="middle" >3</text>
<text x="357.5" y="130.9" font-size="7.7" text-anchor="middle" >months</text>
<text x="392" y="120.9" font-size="7.7" text-anchor="middle" >6-8</text>
<text x="392" y="130.9" font-size="7.7" text-anchor="middle" >months</text>
<text x="426" y="120.9" font-size="7.7" text-anchor="middle" >moribund</text>
<text x="315.8" y="72.7" font-size="9" text-anchor="middle" textLength="64.3" lengthAdjust="spacingAndGlyphs" transform="rotate(-90 315.8 72.7)" >% CLL in splenocytes</text>
<circle cx="347.4" cy="101.2" r="1.5" fill="#a5001f"/>
<circle cx="350.7" cy="104" r="1.5" fill="#a5001f"/>
<circle cx="354.5" cy="104" r="1.5" fill="#a5001f"/>
<circle cx="383" cy="62.1" r="1.5" fill="#a5001f"/>
<circle cx="385.3" cy="62.1" r="1.5" fill="#a5001f"/>
<circle cx="387.8" cy="65" r="1.5" fill="#a5001f"/>
<circle cx="385.3" cy="71.3" r="1.5" fill="#a5001f"/>
<circle cx="385.3" cy="92.3" r="1.5" fill="#a5001f"/>
<circle cx="381.4" cy="97.7" r="1.5" fill="#a5001f"/>
<circle cx="384" cy="98.5" r="1.5" fill="#a5001f"/>
<circle cx="386.6" cy="99.2" r="1.5" fill="#a5001f"/>
<circle cx="389.1" cy="99.6" r="1.5" fill="#a5001f"/>
<circle cx="416" cy="64" r="1.5" fill="#a5001f"/>
<circle cx="419.9" cy="64.4" r="1.5" fill="#a5001f"/>
<circle cx="423.7" cy="61.5" r="1.5" fill="#a5001f"/>
<circle cx="419.9" cy="73.3" r="1.5" fill="#a5001f"/>
<circle cx="419.9" cy="80.4" r="1.5" fill="#a5001f"/>
<circle cx="419.9" cy="105.4" r="1.5" fill="#a5001f"/>
<circle cx="360.3" cy="102.1" r="1.1" fill="#6e84b8" stroke="#40599a" stroke-width="0.9"/>
<circle cx="363.7" cy="105.4" r="1.1" fill="#6e84b8" stroke="#40599a" stroke-width="0.9"/>
<circle cx="367" cy="105.4" r="1.1" fill="#6e84b8" stroke="#40599a" stroke-width="0.9"/>
<circle cx="398.7" cy="86.2" r="1.1" fill="#6e84b8" stroke="#40599a" stroke-width="0.9"/>
<circle cx="397.8" cy="88.5" r="1.1" fill="#6e84b8" stroke="#40599a" stroke-width="0.9"/>
<circle cx="399.7" cy="92.3" r="1.1" fill="#6e84b8" stroke="#40599a" stroke-width="0.9"/>
<circle cx="395.5" cy="97.3" r="1.1" fill="#6e84b8" stroke="#40599a" stroke-width="0.9"/>
<circle cx="397.8" cy="94.8" r="1.1" fill="#6e84b8" stroke="#40599a" stroke-width="0.9"/>
<circle cx="401.6" cy="94.8" r="1.1" fill="#6e84b8" stroke="#40599a" stroke-width="0.9"/>
<circle cx="394.3" cy="101.2" r="1.1" fill="#6e84b8" stroke="#40599a" stroke-width="0.9"/>
<circle cx="396.8" cy="102.5" r="1.1" fill="#6e84b8" stroke="#40599a" stroke-width="0.9"/>
<circle cx="399.7" cy="102.5" r="1.1" fill="#6e84b8" stroke="#40599a" stroke-width="0.9"/>
<circle cx="402.6" cy="102.5" r="1.1" fill="#6e84b8" stroke="#40599a" stroke-width="0.9"/>
<circle cx="429.5" cy="53.5" r="1.1" fill="#6e84b8" stroke="#40599a" stroke-width="0.9"/>
<circle cx="433.3" cy="50.6" r="1.1" fill="#6e84b8" stroke="#40599a" stroke-width="0.9"/>
<circle cx="436.8" cy="49.6" r="1.1" fill="#6e84b8" stroke="#40599a" stroke-width="0.9"/>
<circle cx="433.3" cy="58.3" r="1.1" fill="#6e84b8" stroke="#40599a" stroke-width="0.9"/>
<circle cx="433.3" cy="70.8" r="1.1" fill="#6e84b8" stroke="#40599a" stroke-width="0.9"/>
<circle cx="433.3" cy="81.9" r="1.1" fill="#6e84b8" stroke="#40599a" stroke-width="0.9"/>
<circle cx="433.3" cy="100.6" r="1.1" fill="#6e84b8" stroke="#40599a" stroke-width="0.9"/>
<line x1="345.8" y1="104" x2="355.8" y2="104" stroke="#111" stroke-width="1.3" />
<line x1="359.3" y1="105.4" x2="368" y2="105.4" stroke="#111" stroke-width="1.3" />
<line x1="380" y1="92.3" x2="390.5" y2="92.3" stroke="#111" stroke-width="1.3" />
<line x1="393.5" y1="95.2" x2="403.5" y2="95.2" stroke="#111" stroke-width="1.3" />
<line x1="415" y1="68.8" x2="425" y2="68.8" stroke="#111" stroke-width="1.3" />
<line x1="428.2" y1="58.3" x2="438.2" y2="58.3" stroke="#111" stroke-width="1.3" />
<text x="300.6" y="145.8" font-size="11.2" font-weight="bold" fill="#000" >C</text>
<circle cx="363.5" cy="151.3" r="1.2" fill="#a5001f"/>
<g transform="translate(368.3 154.5)"><text x="-0.2" y="0.1" font-size="8" font-style="italic" textLength="16.9" lengthAdjust="spacingAndGlyphs">TCL1</text><text x="17.5" y="-2.8" font-size="5.4" font-style="italic" class="sup" textLength="12.5" lengthAdjust="spacingAndGlyphs">tg/wt</text></g>
<circle cx="363.5" cy="164.8" r="1.0" fill="#6e84b8" stroke="#40599a" stroke-width="0.9"/>
<g transform="translate(368.3 167.9)"><text x="-0.2" y="0.1" font-size="8" font-style="italic" textLength="16.9" lengthAdjust="spacingAndGlyphs">TCL1</text><text x="17.5" y="-2.8" font-size="5.4" font-style="italic" class="sup" textLength="12.5" lengthAdjust="spacingAndGlyphs">tg/wt</text><text x="31" y="0" font-size="7.7" textLength="10.9" lengthAdjust="spacingAndGlyphs">Lyn</text><text x="42.3" y="-2.8" font-size="5.4" class="sup" textLength="10.3" lengthAdjust="spacingAndGlyphs">up-B</text></g>
<line x1="342.6" y1="166.6" x2="342.6" y2="233.8" stroke="#2b2b2b" stroke-width="1.1" />
<line x1="339.6" y1="233.8" x2="342.6" y2="233.8" stroke="#2b2b2b" stroke-width="1" />
<text x="336.9" y="236.9" font-size="8.8" text-anchor="end" >0</text>
<line x1="339.6" y1="220.96" x2="342.6" y2="220.96" stroke="#2b2b2b" stroke-width="1" />
<text x="336.9" y="224.06" font-size="8.8" text-anchor="end" >10</text>
<line x1="339.6" y1="208.12" x2="342.6" y2="208.12" stroke="#2b2b2b" stroke-width="1" />
<text x="336.9" y="211.22" font-size="8.8" text-anchor="end" >20</text>
<line x1="339.6" y1="195.28" x2="342.6" y2="195.28" stroke="#2b2b2b" stroke-width="1" />
<text x="336.9" y="198.38" font-size="8.8" text-anchor="end" >30</text>
<line x1="339.6" y1="182.44" x2="342.6" y2="182.44" stroke="#2b2b2b" stroke-width="1" />
<text x="336.9" y="185.54" font-size="8.8" text-anchor="end" >40</text>
<line x1="339.6" y1="169.6" x2="342.6" y2="169.6" stroke="#2b2b2b" stroke-width="1" />
<text x="336.9" y="172.7" font-size="8.8" text-anchor="end" >50</text>
<line x1="342.6" y1="233.8" x2="440.75" y2="233.8" stroke="#2b2b2b" stroke-width="1.1" />
<line x1="350.7" y1="233.8" x2="350.7" y2="236" stroke="#2b2b2b" stroke-width="1" />
<line x1="363.7" y1="233.8" x2="363.7" y2="236" stroke="#2b2b2b" stroke-width="1" />
<line x1="384.7" y1="233.8" x2="384.7" y2="236" stroke="#2b2b2b" stroke-width="1" />
<line x1="398.2" y1="233.8" x2="398.2" y2="236" stroke="#2b2b2b" stroke-width="1" />
<line x1="418.9" y1="233.8" x2="418.9" y2="236" stroke="#2b2b2b" stroke-width="1" />
<line x1="432.4" y1="233.8" x2="432.4" y2="236" stroke="#2b2b2b" stroke-width="1" />
<text x="357.5" y="247.2" font-size="7.7" text-anchor="middle" >3</text>
<text x="357.5" y="257.2" font-size="7.7" text-anchor="middle" >months</text>
<text x="391.75" y="247.2" font-size="7.7" text-anchor="middle" >6-8</text>
<text x="391.75" y="257.2" font-size="7.7" text-anchor="middle" >months</text>
<text x="425.75" y="247.2" font-size="7.7" text-anchor="middle" >moribund</text>
<text x="321.4" y="200.25" font-size="9" text-anchor="middle" textLength="85.5" lengthAdjust="spacingAndGlyphs" transform="rotate(-90 321.4 200.25)" >% CLL in bone marrow cells</text>
<circle cx="346.8" cy="232.3" r="1.5" fill="#a5001f"/>
<circle cx="350.7" cy="232.3" r="1.5" fill="#a5001f"/>
<circle cx="354.5" cy="232.3" r="1.5" fill="#a5001f"/>
<circle cx="383.9" cy="211.5" r="1.5" fill="#a5001f"/>
<circle cx="386.2" cy="211.5" r="1.5" fill="#a5001f"/>
<circle cx="385.8" cy="216.3" r="1.5" fill="#a5001f"/>
<circle cx="383.9" cy="220.2" r="1.5" fill="#a5001f"/>
<circle cx="381.4" cy="230.2" r="1.5" fill="#a5001f"/>
<circle cx="383.9" cy="231.7" r="1.5" fill="#a5001f"/>
<circle cx="386.2" cy="231.7" r="1.5" fill="#a5001f"/>
<circle cx="388.2" cy="232.1" r="1.5" fill="#a5001f"/>
<circle cx="419.3" cy="183.7" r="1.5" fill="#a5001f"/>
<circle cx="419.3" cy="194.2" r="1.5" fill="#a5001f"/>
<circle cx="419.3" cy="211" r="1.5" fill="#a5001f"/>
<circle cx="416.6" cy="219.2" r="1.5" fill="#a5001f"/>
<circle cx="421.8" cy="221.5" r="1.5" fill="#a5001f"/>
<circle cx="419.3" cy="231.3" r="1.5" fill="#a5001f"/>
<circle cx="360.3" cy="232.5" r="1.1" fill="#6e84b8" stroke="#40599a" stroke-width="0.9"/>
<circle cx="363.7" cy="232.5" r="1.1" fill="#6e84b8" stroke="#40599a" stroke-width="0.9"/>
<circle cx="367.4" cy="232.5" r="1.1" fill="#6e84b8" stroke="#40599a" stroke-width="0.9"/>
<circle cx="398.2" cy="208.7" r="1.1" fill="#6e84b8" stroke="#40599a" stroke-width="0.9"/>
<circle cx="396.8" cy="224.6" r="1.1" fill="#6e84b8" stroke="#40599a" stroke-width="0.9"/>
<circle cx="398.7" cy="224.6" r="1.1" fill="#6e84b8" stroke="#40599a" stroke-width="0.9"/>
<circle cx="399.3" cy="227.3" r="1.1" fill="#6e84b8" stroke="#40599a" stroke-width="0.9"/>
<circle cx="395.8" cy="231.2" r="1.1" fill="#6e84b8" stroke="#40599a" stroke-width="0.9"/>
<circle cx="398.2" cy="231.5" r="1.1" fill="#6e84b8" stroke="#40599a" stroke-width="0.9"/>
<circle cx="400.7" cy="231.7" r="1.1" fill="#6e84b8" stroke="#40599a" stroke-width="0.9"/>
<circle cx="394.3" cy="232" r="1.1" fill="#6e84b8" stroke="#40599a" stroke-width="0.9"/>
<circle cx="401.6" cy="232.7" r="1.1" fill="#6e84b8" stroke="#40599a" stroke-width="0.9"/>
<circle cx="432.4" cy="198.7" r="1.1" fill="#6e84b8" stroke="#40599a" stroke-width="0.9"/>
<circle cx="432.4" cy="203.8" r="1.1" fill="#6e84b8" stroke="#40599a" stroke-width="0.9"/>
<circle cx="429.5" cy="207.7" r="1.1" fill="#6e84b8" stroke="#40599a" stroke-width="0.9"/>
<circle cx="435.8" cy="210.2" r="1.1" fill="#6e84b8" stroke="#40599a" stroke-width="0.9"/>
<circle cx="432.4" cy="219.6" r="1.1" fill="#6e84b8" stroke="#40599a" stroke-width="0.9"/>
<circle cx="429.5" cy="229.8" r="1.1" fill="#6e84b8" stroke="#40599a" stroke-width="0.9"/>
<circle cx="435.3" cy="231.7" r="1.1" fill="#6e84b8" stroke="#40599a" stroke-width="0.9"/>
<line x1="345" y1="232.5" x2="356" y2="232.5" stroke="#111" stroke-width="1.3" />
<line x1="359" y1="233" x2="369" y2="233" stroke="#111" stroke-width="1.3" />
<line x1="380" y1="230.8" x2="390" y2="230.8" stroke="#111" stroke-width="1.3" />
<line x1="393" y1="230.2" x2="403.2" y2="230.2" stroke="#111" stroke-width="1.3" />
<line x1="414.1" y1="215" x2="424.3" y2="215" stroke="#111" stroke-width="1.3" />
<line x1="427.6" y1="210.2" x2="437.2" y2="210.2" stroke="#111" stroke-width="1.3" />
<text x="7.8" y="170.4" font-size="11.2" font-weight="bold" fill="#000" >D</text>
<circle cx="50.3" cy="176.9" r="1.2" fill="#a5001f"/>
<g transform="translate(55.5 180.1)"><text x="-0.2" y="0.1" font-size="8" font-style="italic" textLength="16.9" lengthAdjust="spacingAndGlyphs">TCL1</text><text x="17.5" y="-2.8" font-size="5.4" font-style="italic" class="sup" textLength="12.5" lengthAdjust="spacingAndGlyphs">tg/wt</text></g>
<circle cx="50.3" cy="190.5" r="1.0" fill="#6e84b8" stroke="#40599a" stroke-width="0.9"/>
<g transform="translate(55.5 193.7)"><text x="-0.2" y="0.1" font-size="8" font-style="italic" textLength="16.9" lengthAdjust="spacingAndGlyphs">TCL1</text><text x="17.5" y="-2.8" font-size="5.4" font-style="italic" class="sup" textLength="12.5" lengthAdjust="spacingAndGlyphs">tg/wt</text><text x="31" y="0" font-size="7.7" textLength="10.9" lengthAdjust="spacingAndGlyphs">Lyn</text><text x="42.3" y="-2.8" font-size="5.4" class="sup" textLength="10.3" lengthAdjust="spacingAndGlyphs">up-B</text></g>
<line x1="49.4" y1="198.7" x2="49.4" y2="241.1" stroke="#2b2b2b" stroke-width="1.1" />
<line x1="49.4" y1="246.4" x2="49.4" y2="265.9" stroke="#2b2b2b" stroke-width="1.1" />
<line x1="45.7" y1="241.1" x2="52.1" y2="241.1" stroke="#2b2b2b" stroke-width="1" />
<line x1="45.7" y1="246.4" x2="52.1" y2="246.4" stroke="#2b2b2b" stroke-width="1" />
<line x1="46" y1="201.9" x2="49.4" y2="201.9" stroke="#2b2b2b" stroke-width="1" />
<text x="42.1" y="204" font-size="8.2" text-anchor="end" >6</text>
<line x1="46" y1="214.7" x2="49.4" y2="214.7" stroke="#2b2b2b" stroke-width="1" />
<text x="42.1" y="216.8" font-size="8.2" text-anchor="end" >4</text>
<line x1="46" y1="227.5" x2="49.4" y2="227.5" stroke="#2b2b2b" stroke-width="1" />
<text x="42.1" y="229.6" font-size="8.2" text-anchor="end" >2</text>
<line x1="46" y1="246.6" x2="49.4" y2="246.6" stroke="#2b2b2b" stroke-width="1" />
<text x="42.1" y="248.7" font-size="8.2" text-anchor="end" >0.2</text>
<line x1="46" y1="256.3" x2="49.4" y2="256.3" stroke="#2b2b2b" stroke-width="1" />
<text x="42.1" y="258.4" font-size="8.2" text-anchor="end" >0.1</text>
<line x1="46" y1="265.6" x2="49.4" y2="265.6" stroke="#2b2b2b" stroke-width="1" />
<text x="42.1" y="267.7" font-size="8.2" text-anchor="end" >0.0</text>
<line x1="49.4" y1="265.9" x2="146.8" y2="265.9" stroke="#2b2b2b" stroke-width="1.1" />
<line x1="56.9" y1="265.9" x2="56.9" y2="268.1" stroke="#2b2b2b" stroke-width="1" />
<line x1="70.7" y1="265.9" x2="70.7" y2="268.1" stroke="#2b2b2b" stroke-width="1" />
<line x1="91.4" y1="265.9" x2="91.4" y2="268.1" stroke="#2b2b2b" stroke-width="1" />
<line x1="104.5" y1="265.9" x2="104.5" y2="268.1" stroke="#2b2b2b" stroke-width="1" />
<line x1="126" y1="265.9" x2="126" y2="268.1" stroke="#2b2b2b" stroke-width="1" />
<line x1="139.3" y1="265.9" x2="139.3" y2="268.1" stroke="#2b2b2b" stroke-width="1" />
<text x="64.3" y="279" font-size="7.7" text-anchor="middle" >3</text>
<text x="64.3" y="288.9" font-size="7.7" text-anchor="middle" >months</text>
<text x="97.5" y="279" font-size="7.7" text-anchor="middle" >6-8</text>
<text x="97.5" y="288.9" font-size="7.7" text-anchor="middle" >months</text>
<text x="132.4" y="279" font-size="7.7" text-anchor="middle" >moribund</text>
<text x="25.4" y="232.4" font-size="8.8" text-anchor="middle" textLength="55.6" lengthAdjust="spacingAndGlyphs" transform="rotate(-90 25.4 232.4)" >Spleen weight (gr)</text>
<circle cx="53.75" cy="258.2" r="1.5" fill="#a5001f"/>
<circle cx="56.9" cy="258.2" r="1.5" fill="#a5001f"/>
<circle cx="60.7" cy="259.2" r="1.5" fill="#a5001f"/>
<circle cx="91.4" cy="239.6" r="1.5" fill="#a5001f"/>
<circle cx="88.2" cy="253.9" r="1.5" fill="#a5001f"/>
<circle cx="95.4" cy="251.8" r="1.5" fill="#a5001f"/>
<circle cx="87.6" cy="258.2" r="1.5" fill="#a5001f"/>
<circle cx="91.8" cy="259.2" r="1.5" fill="#a5001f"/>
<circle cx="91.2" cy="262.3" r="1.5" fill="#a5001f"/>
<circle cx="95.4" cy="263.5" r="1.5" fill="#a5001f"/>
<circle cx="126" cy="222.5" r="1.5" fill="#a5001f"/>
<circle cx="126" cy="227" r="1.5" fill="#a5001f"/>
<circle cx="126" cy="231.6" r="1.5" fill="#a5001f"/>
<circle cx="126" cy="238.7" r="1.5" fill="#a5001f"/>
<circle cx="126" cy="246.5" r="1.5" fill="#a5001f"/>
<circle cx="126" cy="251.2" r="1.5" fill="#a5001f"/>
<circle cx="66.9" cy="257.2" r="1.1" fill="#6e84b8" stroke="#40599a" stroke-width="0.9"/>
<circle cx="70.3" cy="260.8" r="1.1" fill="#6e84b8" stroke="#40599a" stroke-width="0.9"/>
<circle cx="73.4" cy="261.25" r="1.1" fill="#6e84b8" stroke="#40599a" stroke-width="0.9"/>
<circle cx="104.5" cy="240.2" r="1.1" fill="#6e84b8" stroke="#40599a" stroke-width="0.9"/>
<circle cx="101.3" cy="256.7" r="1.1" fill="#6e84b8" stroke="#40599a" stroke-width="0.9"/>
<circle cx="105.6" cy="256.7" r="1.1" fill="#6e84b8" stroke="#40599a" stroke-width="0.9"/>
<circle cx="107.7" cy="256" r="1.1" fill="#6e84b8" stroke="#40599a" stroke-width="0.9"/>
<circle cx="102.4" cy="258.2" r="1.1" fill="#6e84b8" stroke="#40599a" stroke-width="0.9"/>
<circle cx="106.6" cy="259.2" r="1.1" fill="#6e84b8" stroke="#40599a" stroke-width="0.9"/>
<circle cx="108.75" cy="260.3" r="1.1" fill="#6e84b8" stroke="#40599a" stroke-width="0.9"/>
<circle cx="139.3" cy="206" r="1.1" fill="#6e84b8" stroke="#40599a" stroke-width="0.9"/>
<circle cx="136.5" cy="226.5" r="1.1" fill="#6e84b8" stroke="#40599a" stroke-width="0.9"/>
<circle cx="141.8" cy="227.2" r="1.1" fill="#6e84b8" stroke="#40599a" stroke-width="0.9"/>
<circle cx="139.3" cy="237.1" r="1.1" fill="#6e84b8" stroke="#40599a" stroke-width="0.9"/>
<circle cx="136.7" cy="239" r="1.1" fill="#6e84b8" stroke="#40599a" stroke-width="0.9"/>
<circle cx="141.8" cy="241.6" r="1.1" fill="#6e84b8" stroke="#40599a" stroke-width="0.9"/>
<circle cx="139.3" cy="249.4" r="1.1" fill="#6e84b8" stroke="#40599a" stroke-width="0.9"/>
<circle cx="139.3" cy="254.2" r="1.1" fill="#6e84b8" stroke="#40599a" stroke-width="0.9"/>
<circle cx="139.3" cy="262.2" r="1.1" fill="#6e84b8" stroke="#40599a" stroke-width="0.9"/>
<line x1="52.5" y1="258.2" x2="60.5" y2="258.2" stroke="#111" stroke-width="1.3" />
<line x1="65.3" y1="260" x2="75.8" y2="260" stroke="#111" stroke-width="1.3" />
<line x1="87" y1="256" x2="96.7" y2="256" stroke="#111" stroke-width="1.3" />
<line x1="100.3" y1="257.1" x2="109.8" y2="257.1" stroke="#111" stroke-width="1.3" />
<line x1="121" y1="235.2" x2="130.8" y2="235.2" stroke="#111" stroke-width="1.3" />
<line x1="134.3" y1="239" x2="144.1" y2="239" stroke="#111" stroke-width="1.3" />
<text x="158.9" y="170.5" font-size="11.2" font-weight="bold" fill="#000" >E</text>
<circle cx="191.5" cy="177.2" r="1.2" fill="#a5001f"/>
<g transform="translate(196.3 180.4)"><text x="-0.2" y="0.1" font-size="8" font-style="italic" textLength="16.9" lengthAdjust="spacingAndGlyphs">TCL1</text><text x="17.5" y="-2.8" font-size="5.4" font-style="italic" class="sup" textLength="12.5" lengthAdjust="spacingAndGlyphs">tg/wt</text></g>
<circle cx="191.5" cy="190.5" r="1.0" fill="#6e84b8" stroke="#40599a" stroke-width="0.9"/>
<g transform="translate(196.3 193.7)"><text x="-0.2" y="0.1" font-size="8" font-style="italic" textLength="16.9" lengthAdjust="spacingAndGlyphs">TCL1</text><text x="17.5" y="-2.8" font-size="5.4" font-style="italic" class="sup" textLength="12.5" lengthAdjust="spacingAndGlyphs">tg/wt</text><text x="31" y="0" font-size="7.7" textLength="10.9" lengthAdjust="spacingAndGlyphs">Lyn</text><text x="42.3" y="-2.8" font-size="5.4" class="sup" textLength="10.3" lengthAdjust="spacingAndGlyphs">up-B</text></g>
<line x1="190.7" y1="198.7" x2="190.7" y2="265.7" stroke="#2b2b2b" stroke-width="1.1" />
<line x1="187.7" y1="265.6" x2="190.7" y2="265.6" stroke="#2b2b2b" stroke-width="1" />
<text x="184.9" y="267.9" font-size="8.4" text-anchor="end" >1</text>
<line x1="187.7" y1="249.6" x2="190.7" y2="249.6" stroke="#2b2b2b" stroke-width="1" />
<text x="184.9" y="251.9" font-size="8.4" text-anchor="end" >2</text>
<line x1="187.7" y1="233.6" x2="190.7" y2="233.6" stroke="#2b2b2b" stroke-width="1" />
<text x="184.9" y="235.9" font-size="8.4" text-anchor="end" >3</text>
<line x1="187.7" y1="217.6" x2="190.7" y2="217.6" stroke="#2b2b2b" stroke-width="1" />
<text x="184.9" y="219.9" font-size="8.4" text-anchor="end" >4</text>
<line x1="187.7" y1="201.6" x2="190.7" y2="201.6" stroke="#2b2b2b" stroke-width="1" />
<text x="184.9" y="203.9" font-size="8.4" text-anchor="end" >5</text>
<line x1="190.7" y1="265.7" x2="288.9" y2="265.7" stroke="#2b2b2b" stroke-width="1.1" />
<line x1="198.7" y1="265.7" x2="198.7" y2="267.9" stroke="#2b2b2b" stroke-width="1" />
<line x1="212.3" y1="265.7" x2="212.3" y2="267.9" stroke="#2b2b2b" stroke-width="1" />
<line x1="233.5" y1="265.7" x2="233.5" y2="267.9" stroke="#2b2b2b" stroke-width="1" />
<line x1="246.6" y1="265.7" x2="246.6" y2="267.9" stroke="#2b2b2b" stroke-width="1" />
<line x1="267.5" y1="265.7" x2="267.5" y2="267.9" stroke="#2b2b2b" stroke-width="1" />
<line x1="280.9" y1="265.7" x2="280.9" y2="267.9" stroke="#2b2b2b" stroke-width="1" />
<text x="205.2" y="279.4" font-size="7.7" text-anchor="middle" >3</text>
<text x="205.2" y="288.9" font-size="7.7" text-anchor="middle" >months</text>
<text x="239.5" y="279.4" font-size="7.7" text-anchor="middle" >6-8</text>
<text x="239.5" y="288.9" font-size="7.7" text-anchor="middle" >months</text>
<text x="274" y="279.4" font-size="7.7" text-anchor="middle" >moribund</text>
<text x="174.3" y="232.6" font-size="8.8" text-anchor="middle" textLength="50.6" lengthAdjust="spacingAndGlyphs" transform="rotate(-90 174.3 232.6)" >Liver weight (gr)</text>
<circle cx="196.1" cy="254.5" r="1.5" fill="#a5001f"/>
<circle cx="201.6" cy="256.1" r="1.5" fill="#a5001f"/>
<circle cx="198.7" cy="264.2" r="1.5" fill="#a5001f"/>
<circle cx="232.5" cy="254.5" r="1.5" fill="#a5001f"/>
<circle cx="228.5" cy="257.5" r="1.5" fill="#a5001f"/>
<circle cx="238" cy="258.5" r="1.5" fill="#a5001f"/>
<circle cx="231.5" cy="262" r="1.5" fill="#a5001f"/>
<circle cx="234.5" cy="264.5" r="1.5" fill="#a5001f"/>
<circle cx="267.5" cy="213" r="1.5" fill="#a5001f"/>
<circle cx="267.5" cy="229.5" r="1.5" fill="#a5001f"/>
<circle cx="265" cy="243" r="1.5" fill="#a5001f"/>
<circle cx="270.5" cy="247.5" r="1.5" fill="#a5001f"/>
<circle cx="265.5" cy="255" r="1.5" fill="#a5001f"/>
<circle cx="270.5" cy="256.5" r="1.5" fill="#a5001f"/>
<circle cx="209.2" cy="258.6" r="1.1" fill="#6e84b8" stroke="#40599a" stroke-width="0.9"/>
<circle cx="212.3" cy="255.5" r="1.1" fill="#6e84b8" stroke="#40599a" stroke-width="0.9"/>
<circle cx="214.9" cy="261" r="1.1" fill="#6e84b8" stroke="#40599a" stroke-width="0.9"/>
<circle cx="246.2" cy="248" r="1.1" fill="#6e84b8" stroke="#40599a" stroke-width="0.9"/>
<circle cx="243" cy="255" r="1.1" fill="#6e84b8" stroke="#40599a" stroke-width="0.9"/>
<circle cx="247.5" cy="255" r="1.1" fill="#6e84b8" stroke="#40599a" stroke-width="0.9"/>
<circle cx="250.5" cy="255" r="1.1" fill="#6e84b8" stroke="#40599a" stroke-width="0.9"/>
<circle cx="241.5" cy="261" r="1.1" fill="#6e84b8" stroke="#40599a" stroke-width="0.9"/>
<circle cx="246" cy="261" r="1.1" fill="#6e84b8" stroke="#40599a" stroke-width="0.9"/>
<circle cx="248" cy="264.5" r="1.1" fill="#6e84b8" stroke="#40599a" stroke-width="0.9"/>
<circle cx="281" cy="212" r="1.1" fill="#6e84b8" stroke="#40599a" stroke-width="0.9"/>
<circle cx="278.5" cy="226.5" r="1.1" fill="#6e84b8" stroke="#40599a" stroke-width="0.9"/>
<circle cx="284" cy="228.5" r="1.1" fill="#6e84b8" stroke="#40599a" stroke-width="0.9"/>
<circle cx="283.5" cy="232.5" r="1.1" fill="#6e84b8" stroke="#40599a" stroke-width="0.9"/>
<circle cx="278.5" cy="251.5" r="1.1" fill="#6e84b8" stroke="#40599a" stroke-width="0.9"/>
<circle cx="283.5" cy="253" r="1.1" fill="#6e84b8" stroke="#40599a" stroke-width="0.9"/>
<circle cx="278.5" cy="258" r="1.1" fill="#6e84b8" stroke="#40599a" stroke-width="0.9"/>
<circle cx="283.5" cy="261" r="1.1" fill="#6e84b8" stroke="#40599a" stroke-width="0.9"/>
<line x1="193.5" y1="256.1" x2="203.5" y2="256.1" stroke="#111" stroke-width="1.3" />
<line x1="207" y1="258.3" x2="217" y2="258.3" stroke="#111" stroke-width="1.3" />
<line x1="228" y1="258.3" x2="238" y2="258.3" stroke="#111" stroke-width="1.3" />
<line x1="241" y1="256.3" x2="252" y2="256.3" stroke="#111" stroke-width="1.3" />
<line x1="263" y1="245" x2="272" y2="245" stroke="#111" stroke-width="1.3" />
<line x1="276" y1="236.5" x2="286" y2="236.5" stroke="#111" stroke-width="1.3" />
<text x="8.75" y="311.3" font-size="11.2" font-weight="bold" fill="#000" >F</text>
<line x1="65" y1="315.2" x2="71.3" y2="315.2" stroke="#c8102e" stroke-width="1.6" />
<text x="74.4" y="318.1" font-size="7.7" textLength="59.4" lengthAdjust="spacingAndGlyphs" >TCL1tg/wt (n = 6)</text>
<line x1="136" y1="315.2" x2="142" y2="315.2" stroke="#2a4a8c" stroke-width="1.6" />
<text x="144.8" y="318.1" font-size="7.7" textLength="89.4" lengthAdjust="spacingAndGlyphs" >TCL1tg/wt Lynup-B (n = 6)</text>
<circle cx="147.1" cy="406.6" r="14.65" fill="none" stroke="#c9c9c9" stroke-width="0.8"/>
<circle cx="147.1" cy="406.6" r="29.3" fill="none" stroke="#c9c9c9" stroke-width="0.8"/>
<circle cx="147.1" cy="406.6" r="43.95" fill="none" stroke="#c9c9c9" stroke-width="0.8"/>
<circle cx="147.1" cy="406.6" r="58.6" fill="none" stroke="#c9c9c9" stroke-width="0.8"/>
<circle cx="147.1" cy="406.6" r="73.25" fill="none" stroke="#c9c9c9" stroke-width="0.8"/>
<text x="141.6" y="410.2" font-size="8" text-anchor="end" >0.1</text>
<text x="141.6" y="395.55" font-size="8" text-anchor="end" >1</text>
<text x="141.6" y="380.9" font-size="8" text-anchor="end" >10</text>
<text x="141.6" y="366.25" font-size="8" text-anchor="end" >100</text>
<text x="141.6" y="351.6" font-size="8" text-anchor="end" >1000</text>
<text x="141.6" y="336.95" font-size="8" text-anchor="end" >10000</text>
<polygon points="147.1,352.2 157.95,352.07 158.77,378.42 158.66,389.31 184.15,369.55 174.54,388.27 176.29,394.51 164.95,403.05 156.2,406.6 168.48,410.85 170.75,416.4 168.39,420.82 177.01,436.51 171.82,443.6 161.91,442.35 153.44,438.48 147.1,443 139.61,444.26 140.44,422.68 122.82,442.94 112.88,440.82 137.29,413.16 78.27,435.11 104.44,415.09 113.8,406.6 103.55,397.94 105.99,389.57 108.02,380.49 114.08,373.58 124.71,373.09 135.31,378.14 144.35,392.77" fill="none" stroke="#c8102e" stroke-width="1.05" stroke-linejoin="miter"/>
<polygon points="147.1,351.3 158.12,351.19 158.2,379.81 157.32,391.3 184.15,369.55 173.46,388.99 176.29,394.51 164.95,403.05 158.75,406.6 166.13,410.38 173.8,417.66 168.64,420.99 177.01,436.51 171.05,442.44 162.06,442.72 153.64,439.46 147.1,446.1 138.93,447.69 138.99,426.19 122.82,442.94 110.54,443.16 137.87,412.77 78.27,435.11 104.44,415.09 113.3,406.6 103.55,397.94 105.99,389.57 109.85,381.71 114.08,373.58 124.32,372.51 135.31,378.14 144.35,392.77" fill="none" stroke="#22438a" stroke-width="1.05" stroke-linejoin="miter"/>
<text x="133.8" y="330.2" font-size="8" textLength="23.7" lengthAdjust="spacingAndGlyphs" >Eotaxin</text>
<text x="109.8" y="330.2" font-size="8" textLength="19.2" lengthAdjust="spacingAndGlyphs" >VEGF</text>
<text x="99.6" y="338.7" font-size="8" textLength="17.9" lengthAdjust="spacingAndGlyphs" >TNFa</text>
<text x="73.8" y="346" font-size="8" textLength="29.3" lengthAdjust="spacingAndGlyphs" >RANTES</text>
<text x="71.9" y="354.6" font-size="8" textLength="19.6" lengthAdjust="spacingAndGlyphs" >MIP-2</text>
<text x="57.8" y="367.3" font-size="8" textLength="25" lengthAdjust="spacingAndGlyphs" >MIP-1B</text>
<text x="51.6" y="380.2" font-size="8" textLength="23.9" lengthAdjust="spacingAndGlyphs" >MIP-1a</text>
<text x="55.6" y="395.1" font-size="8" textLength="14.4" lengthAdjust="spacingAndGlyphs" >MIG</text>
<text x="45.8" y="410.4" font-size="8" textLength="23.9" lengthAdjust="spacingAndGlyphs" >M-CSF</text>
<text x="47.8" y="425.1" font-size="8" textLength="23" lengthAdjust="spacingAndGlyphs" >MCP-1</text>
<text x="65" y="439.6" font-size="8" textLength="10.5" lengthAdjust="spacingAndGlyphs" >LIX</text>
<text x="73.9" y="452.7" font-size="8" textLength="9.85" lengthAdjust="spacingAndGlyphs" >LIF</text>
<text x="81.5" y="464.8" font-size="8" textLength="10.8" lengthAdjust="spacingAndGlyphs" >KC</text>
<text x="86.5" y="474.1" font-size="8" textLength="17.7" lengthAdjust="spacingAndGlyphs" >IP-10</text>
<text x="100.4" y="481.4" font-size="8" textLength="16.9" lengthAdjust="spacingAndGlyphs" >IL-17</text>
<text x="117.7" y="486" font-size="8" textLength="16.9" lengthAdjust="spacingAndGlyphs" >IL-15</text>
<text x="138.8" y="491" font-size="8" textLength="17.4" lengthAdjust="spacingAndGlyphs" >IL-13</text>
<text x="162.5" y="488.1" font-size="8" textLength="36.5" lengthAdjust="spacingAndGlyphs" >IL-12 (p70)</text>
<text x="176.9" y="480.8" font-size="8" textLength="37.1" lengthAdjust="spacingAndGlyphs" >IL-12 (p40)</text>
<text x="189.8" y="474.1" font-size="8" textLength="17.3" lengthAdjust="spacingAndGlyphs" >IL-10</text>
<text x="201.3" y="464.1" font-size="8" textLength="12.5" lengthAdjust="spacingAndGlyphs" >IL-9</text>
<text x="211.2" y="452.5" font-size="8" textLength="11.9" lengthAdjust="spacingAndGlyphs" >IL-7</text>
<text x="218.8" y="438.9" font-size="8" textLength="12" lengthAdjust="spacingAndGlyphs" >IL-6</text>
<text x="222.7" y="424.4" font-size="8" textLength="12.3" lengthAdjust="spacingAndGlyphs" >IL-5</text>
<text x="224" y="410.3" font-size="8" textLength="12.2" lengthAdjust="spacingAndGlyphs" >IL-4</text>
<text x="222.7" y="394.6" font-size="8" textLength="12.3" lengthAdjust="spacingAndGlyphs" >IL-3</text>
<text x="218.8" y="380.2" font-size="8" textLength="12" lengthAdjust="spacingAndGlyphs" >IL-2</text>
<text x="210.6" y="367.5" font-size="8" textLength="17.9" lengthAdjust="spacingAndGlyphs" >IL-1B</text>
<text x="201.9" y="356" font-size="8" textLength="16.4" lengthAdjust="spacingAndGlyphs" >IL-1a</text>
<text x="191.9" y="347.3" font-size="8" textLength="14.8" lengthAdjust="spacingAndGlyphs" >IFNy</text>
<text x="179.2" y="340.6" font-size="8" textLength="30.4" lengthAdjust="spacingAndGlyphs" >GM-CSF</text>
<text x="163.1" y="334.4" font-size="8" textLength="23.4" lengthAdjust="spacingAndGlyphs" >G-CSF</text>
<text x="300" y="272.6" font-size="11.2" font-weight="bold" fill="#000" >G</text>
<rect x="331.2" y="277.9" width="7.6" height="2.8" fill="#a6002c"/>
<g transform="translate(342.9 282.6)"><text x="-0.2" y="0.1" font-size="8" font-style="italic" textLength="16.9" lengthAdjust="spacingAndGlyphs">TCL1</text><text x="17.5" y="-2.8" font-size="5.4" font-style="italic" class="sup" textLength="12.5" lengthAdjust="spacingAndGlyphs">tg/wt</text><text x="32" y="0" font-size="7.5" textLength="61" lengthAdjust="spacingAndGlyphs">4-5 months (n = 4)</text></g>
<rect x="331.2" y="289.8" width="7.6" height="2.8" fill="#284b8a"/>
<g transform="translate(342.9 294.5)"><text x="-0.2" y="0.1" font-size="8" font-style="italic" textLength="16.9" lengthAdjust="spacingAndGlyphs">TCL1</text><text x="17.5" y="-2.8" font-size="5.4" font-style="italic" class="sup" textLength="12.5" lengthAdjust="spacingAndGlyphs">tg/wt</text><text x="31" y="0" font-size="7.7" textLength="10.9" lengthAdjust="spacingAndGlyphs">Lyn</text><text x="42.3" y="-2.8" font-size="5.4" class="sup" textLength="10.3" lengthAdjust="spacingAndGlyphs">up-B</text><text x="55.9" y="0" font-size="7.5" textLength="61" lengthAdjust="spacingAndGlyphs">4-5 months (n = 4)</text></g>
<rect x="331.2" y="301.7" width="7.6" height="2.8" fill="#6cae46"/>
<g transform="translate(342.9 306.4)"><text x="-0.2" y="0.1" font-size="8" font-style="italic" textLength="16.9" lengthAdjust="spacingAndGlyphs">TCL1</text><text x="17.5" y="-2.8" font-size="5.4" font-style="italic" class="sup" textLength="12.5" lengthAdjust="spacingAndGlyphs">tg/wt</text><text x="32" y="0" font-size="7.5" textLength="65.5" lengthAdjust="spacingAndGlyphs">8-10 months (n = 4)</text></g>
<rect x="331.2" y="313.8" width="7.6" height="2.8" fill="#4e1d66"/>
<g transform="translate(342.9 318.5)"><text x="-0.2" y="0.1" font-size="8" font-style="italic" textLength="16.9" lengthAdjust="spacingAndGlyphs">TCL1</text><text x="17.5" y="-2.8" font-size="5.4" font-style="italic" class="sup" textLength="12.5" lengthAdjust="spacingAndGlyphs">tg/wt</text><text x="31" y="0" font-size="7.7" textLength="10.9" lengthAdjust="spacingAndGlyphs">Lyn</text><text x="42.3" y="-2.8" font-size="5.4" class="sup" textLength="10.3" lengthAdjust="spacingAndGlyphs">up-B</text><text x="55.9" y="0" font-size="7.5" textLength="65.5" lengthAdjust="spacingAndGlyphs">8-10 months (n = 4)</text></g>
<line x1="342.4" y1="323.3" x2="342.4" y2="398.3" stroke="#2b2b2b" stroke-width="1.1" />
<line x1="339.4" y1="398.3" x2="342.4" y2="398.3" stroke="#2b2b2b" stroke-width="1" />
<text x="336.6" y="401.4" font-size="8.8" text-anchor="end" >0</text>
<line x1="339.4" y1="383.9" x2="342.4" y2="383.9" stroke="#2b2b2b" stroke-width="1" />
<text x="336.6" y="387" font-size="8.8" text-anchor="end" >10</text>
<line x1="339.4" y1="369.5" x2="342.4" y2="369.5" stroke="#2b2b2b" stroke-width="1" />
<text x="336.6" y="372.6" font-size="8.8" text-anchor="end" >20</text>
<line x1="339.4" y1="355.1" x2="342.4" y2="355.1" stroke="#2b2b2b" stroke-width="1" />
<text x="336.6" y="358.2" font-size="8.8" text-anchor="end" >30</text>
<line x1="339.4" y1="340.7" x2="342.4" y2="340.7" stroke="#2b2b2b" stroke-width="1" />
<text x="336.6" y="343.8" font-size="8.8" text-anchor="end" >40</text>
<line x1="339.4" y1="326.3" x2="342.4" y2="326.3" stroke="#2b2b2b" stroke-width="1" />
<text x="336.6" y="329.4" font-size="8.8" text-anchor="end" >50</text>
<line x1="362.1" y1="367.05" x2="362.1" y2="363.74" stroke="#333" stroke-width="1" />
<line x1="358.3" y1="363.74" x2="365.9" y2="363.74" stroke="#333" stroke-width="1.1" />
<rect x="354.3" y="367.05" width="15.6" height="31.25" fill="#a6002c"/>
<line x1="385.8" y1="372.24" x2="385.8" y2="362.16" stroke="#333" stroke-width="1" />
<line x1="382" y1="362.16" x2="389.6" y2="362.16" stroke="#333" stroke-width="1.1" />
<rect x="378" y="372.24" width="15.6" height="26.06" fill="#284b8a"/>
<line x1="408.7" y1="355.39" x2="408.7" y2="349.92" stroke="#333" stroke-width="1" />
<line x1="404.9" y1="349.92" x2="412.5" y2="349.92" stroke="#333" stroke-width="1.1" />
<rect x="400.9" y="355.39" width="15.6" height="42.91" fill="#6cae46"/>
<line x1="432.1" y1="366.33" x2="432.1" y2="357.84" stroke="#333" stroke-width="1" />
<line x1="428.3" y1="357.84" x2="435.9" y2="357.84" stroke="#333" stroke-width="1.1" />
<rect x="424.3" y="366.33" width="15.6" height="31.97" fill="#4e1d66"/>
<line x1="342.4" y1="398.3" x2="451.4" y2="398.3" stroke="#2b2b2b" stroke-width="1.1" />
<text x="320.2" y="360.5" font-size="9" text-anchor="middle" textLength="65.5" lengthAdjust="spacingAndGlyphs" transform="rotate(-90 320.2 360.5)" >% BrdU<tspan font-size="5.5" dy="-3.2">+</tspan><tspan dy="3.2"> per CLL cell</tspan></text>
<text x="300.5" y="416.4" font-size="11.2" font-weight="bold" fill="#000" >H</text>
<rect x="331.2" y="420.6" width="7.6" height="2.8" fill="#a6002c"/>
<g transform="translate(342.9 425.3)"><text x="-0.2" y="0.1" font-size="8" font-style="italic" textLength="16.9" lengthAdjust="spacingAndGlyphs">TCL1</text><text x="17.5" y="-2.8" font-size="5.4" font-style="italic" class="sup" textLength="12.5" lengthAdjust="spacingAndGlyphs">tg/wt</text><text x="32" y="0" font-size="7.5" textLength="61" lengthAdjust="spacingAndGlyphs">4-5 months (n = 4)</text></g>
<rect x="331.2" y="432.2" width="7.6" height="2.8" fill="#284b8a"/>
<g transform="translate(342.9 436.9)"><text x="-0.2" y="0.1" font-size="8" font-style="italic" textLength="16.9" lengthAdjust="spacingAndGlyphs">TCL1</text><text x="17.5" y="-2.8" font-size="5.4" font-style="italic" class="sup" textLength="12.5" lengthAdjust="spacingAndGlyphs">tg/wt</text><text x="31" y="0" font-size="7.7" textLength="10.9" lengthAdjust="spacingAndGlyphs">Lyn</text><text x="42.3" y="-2.8" font-size="5.4" class="sup" textLength="10.3" lengthAdjust="spacingAndGlyphs">up-B</text><text x="55.9" y="0" font-size="7.5" textLength="61" lengthAdjust="spacingAndGlyphs">4-5 months (n = 4)</text></g>
<rect x="331.2" y="444.1" width="7.6" height="2.8" fill="#6cae46"/>
<g transform="translate(342.9 448.8)"><text x="-0.2" y="0.1" font-size="8" font-style="italic" textLength="16.9" lengthAdjust="spacingAndGlyphs">TCL1</text><text x="17.5" y="-2.8" font-size="5.4" font-style="italic" class="sup" textLength="12.5" lengthAdjust="spacingAndGlyphs">tg/wt</text><text x="32" y="0" font-size="7.5" textLength="65.5" lengthAdjust="spacingAndGlyphs">8-10 months (n = 4)</text></g>
<rect x="331.2" y="455.9" width="7.6" height="2.8" fill="#4e1d66"/>
<g transform="translate(342.9 460.6)"><text x="-0.2" y="0.1" font-size="8" font-style="italic" textLength="16.9" lengthAdjust="spacingAndGlyphs">TCL1</text><text x="17.5" y="-2.8" font-size="5.4" font-style="italic" class="sup" textLength="12.5" lengthAdjust="spacingAndGlyphs">tg/wt</text><text x="31" y="0" font-size="7.7" textLength="10.9" lengthAdjust="spacingAndGlyphs">Lyn</text><text x="42.3" y="-2.8" font-size="5.4" class="sup" textLength="10.3" lengthAdjust="spacingAndGlyphs">up-B</text><text x="55.9" y="0" font-size="7.5" textLength="65.5" lengthAdjust="spacingAndGlyphs">8-10 months (n = 4)</text></g>
<line x1="342.4" y1="465.5" x2="342.4" y2="536.8" stroke="#2b2b2b" stroke-width="1.1" />
<line x1="339.4" y1="536.8" x2="342.4" y2="536.8" stroke="#2b2b2b" stroke-width="1" />
<text x="336.6" y="539.9" font-size="8.8" text-anchor="end" >0</text>
<line x1="339.4" y1="516.27" x2="342.4" y2="516.27" stroke="#2b2b2b" stroke-width="1" />
<text x="336.6" y="519.37" font-size="8.8" text-anchor="end" >20</text>
<line x1="339.4" y1="495.73" x2="342.4" y2="495.73" stroke="#2b2b2b" stroke-width="1" />
<text x="336.6" y="498.83" font-size="8.8" text-anchor="end" >40</text>
<line x1="339.4" y1="475.2" x2="342.4" y2="475.2" stroke="#2b2b2b" stroke-width="1" />
<text x="336.6" y="478.3" font-size="8.8" text-anchor="end" >60</text>
<line x1="362.1" y1="520.78" x2="362.1" y2="518.42" stroke="#333" stroke-width="1" />
<line x1="358.3" y1="518.42" x2="365.9" y2="518.42" stroke="#333" stroke-width="1.1" />
<rect x="354.3" y="520.78" width="15.6" height="16.02" fill="#a6002c"/>
<line x1="385.8" y1="520.48" x2="385.8" y2="517.09" stroke="#333" stroke-width="1" />
<line x1="382" y1="517.09" x2="389.6" y2="517.09" stroke="#333" stroke-width="1.1" />
<rect x="378" y="520.48" width="15.6" height="16.32" fill="#284b8a"/>
<line x1="408.7" y1="493.68" x2="408.7" y2="476.74" stroke="#333" stroke-width="1" />
<line x1="404.9" y1="476.74" x2="412.5" y2="476.74" stroke="#333" stroke-width="1.1" />
<rect x="400.9" y="493.68" width="15.6" height="43.12" fill="#6cae46"/>
<line x1="432.1" y1="509.08" x2="432.1" y2="499.84" stroke="#333" stroke-width="1" />
<line x1="428.3" y1="499.84" x2="435.9" y2="499.84" stroke="#333" stroke-width="1.1" />
<rect x="424.3" y="509.08" width="15.6" height="27.72" fill="#4e1d66"/>
<line x1="342.4" y1="536.8" x2="451.4" y2="536.8" stroke="#2b2b2b" stroke-width="1.1" />
<text x="320.2" y="501.4" font-size="9" text-anchor="middle" textLength="63.3" lengthAdjust="spacingAndGlyphs" transform="rotate(-90 320.2 501.4)" >% Ki67<tspan font-size="5.5" dy="-3.2">+</tspan><tspan dy="3.2"> per CLL cell</tspan></text>
<rect x="10.3" y="503.9" width="2.3" height="8" fill="#000"/>
<text x="74.6" y="518.6" font-size="7.9" text-anchor="middle" >spleen</text>
<g clip-path="url(#hc1)">
<rect x="32.6" y="523.3" width="84" height="53" fill="#a394c8"/>
<g filter="url(#soft)">
<ellipse cx="40" cy="528" rx="12" ry="9" fill="#67569f" fill-opacity="0.55"/>
<ellipse cx="77" cy="526" rx="7" ry="5" fill="#67569f" fill-opacity="0.6"/>
<ellipse cx="64" cy="563" rx="20" ry="11" fill="#67569f" fill-opacity="0.75"/>
<ellipse cx="52" cy="556" rx="8" ry="6" fill="#67569f" fill-opacity="0.4"/>
<ellipse cx="113" cy="553" rx="5" ry="12" fill="#67569f" fill-opacity="0.35"/>
<ellipse cx="96" cy="573" rx="8" ry="5" fill="#67569f" fill-opacity="0.3"/>
<ellipse cx="60" cy="541" rx="15" ry="9" fill="#ffffff" fill-opacity="0.45"/>
<ellipse cx="100" cy="548" rx="14" ry="16" fill="#ffffff" fill-opacity="0.4"/>
<ellipse cx="90" cy="533" rx="8" ry="6" fill="#ffffff" fill-opacity="0.25"/>
</g>
<rect x="32.6" y="523.3" width="84" height="53" fill="#fff" filter="url(#fine)"/>
</g>
<rect x="32.6" y="523.3" width="84" height="53" fill="none" stroke="#dcdcdc" stroke-width="0.8"/>
<g clip-path="url(#hc2)">
<rect x="32.6" y="578.8" width="84" height="53" fill="#a394c8"/>
<g filter="url(#soft)">
<ellipse cx="40" cy="588" rx="11" ry="10" fill="#67569f" fill-opacity="0.55"/>
<ellipse cx="62" cy="606" rx="14" ry="10" fill="#67569f" fill-opacity="0.65"/>
<ellipse cx="70" cy="629" rx="7" ry="5" fill="#67569f" fill-opacity="0.9"/>
<ellipse cx="106" cy="594" rx="12" ry="9" fill="#67569f" fill-opacity="0.45"/>
<ellipse cx="88" cy="613" rx="6" ry="6" fill="#67569f" fill-opacity="0.3"/>
<ellipse cx="42" cy="614" rx="9" ry="12" fill="#ffffff" fill-opacity="0.42"/>
<ellipse cx="98" cy="618" rx="15" ry="11" fill="#ffffff" fill-opacity="0.45"/>
<ellipse cx="80" cy="586" rx="12" ry="5" fill="#ffffff" fill-opacity="0.3"/>
</g>
<rect x="32.6" y="578.8" width="84" height="53" fill="#fff" filter="url(#fine)"/>
</g>
<rect x="32.6" y="578.8" width="84" height="53" fill="none" stroke="#dcdcdc" stroke-width="0.8"/>
<line x1="36.6" y1="571.6" x2="55.1" y2="571.6" stroke="#fff" stroke-width="1.8"/>
<line x1="36.6" y1="626.8" x2="55.1" y2="626.8" stroke="#fff" stroke-width="1.8"/>
<g transform="translate(27.6 566.05) rotate(-90)"><text x="-0.22" y="0.11" font-size="8.96" font-style="italic" textLength="18.93" lengthAdjust="spacingAndGlyphs">TCL1</text><text x="19.6" y="-3.14" font-size="6.05" font-style="italic" class="sup" textLength="14" lengthAdjust="spacingAndGlyphs">tg/wt</text></g>
<g transform="translate(27.6 633.75) rotate(-90)"><text x="-0.22" y="0.11" font-size="8.8" font-style="italic" textLength="18.59" lengthAdjust="spacingAndGlyphs">TCL1</text><text x="19.25" y="-3.08" font-size="5.94" font-style="italic" class="sup" textLength="13.75" lengthAdjust="spacingAndGlyphs">tg/wt</text><text x="34.1" y="0" font-size="8.47" textLength="11.99" lengthAdjust="spacingAndGlyphs">Lyn</text><text x="46.53" y="-3.08" font-size="5.94" class="sup" textLength="11.33" lengthAdjust="spacingAndGlyphs">up-B</text></g>
<rect x="168.5" y="537.9" width="7.7" height="2.8" fill="#a6002c"/>
<g transform="translate(179.7 541.9)"><text x="-0.2" y="0.1" font-size="8" font-style="italic" textLength="16.9" lengthAdjust="spacingAndGlyphs">TCL1</text><text x="17.5" y="-2.8" font-size="5.4" font-style="italic" class="sup" textLength="12.5" lengthAdjust="spacingAndGlyphs">tg/wt</text><text x="32" y="0" font-size="7.5" textLength="22.2" lengthAdjust="spacingAndGlyphs">(n = 3)</text></g>
<rect x="168.5" y="550.3" width="7.7" height="2.8" fill="#284b8a"/>
<g transform="translate(179.7 554.4)"><text x="-0.2" y="0.1" font-size="8" font-style="italic" textLength="16.9" lengthAdjust="spacingAndGlyphs">TCL1</text><text x="17.5" y="-2.8" font-size="5.4" font-style="italic" class="sup" textLength="12.5" lengthAdjust="spacingAndGlyphs">tg/wt</text><text x="31" y="0" font-size="7.7" textLength="10.9" lengthAdjust="spacingAndGlyphs">Lyn</text><text x="42.3" y="-2.8" font-size="5.4" class="sup" textLength="10.3" lengthAdjust="spacingAndGlyphs">up-B</text><text x="55.9" y="0" font-size="7.5" textLength="22.3" lengthAdjust="spacingAndGlyphs">(n = 4)</text></g>
<line x1="157.6" y1="560" x2="157.6" y2="629.5" stroke="#2b2b2b" stroke-width="1.1" />
<line x1="154.6" y1="629.5" x2="157.6" y2="629.5" stroke="#2b2b2b" stroke-width="1" />
<text x="151.4" y="632.5" font-size="8" text-anchor="end" >0.0</text>
<line x1="154.6" y1="616.16" x2="157.6" y2="616.16" stroke="#2b2b2b" stroke-width="1" />
<text x="151.4" y="619.16" font-size="8" text-anchor="end" >0.2</text>
<line x1="154.6" y1="602.82" x2="157.6" y2="602.82" stroke="#2b2b2b" stroke-width="1" />
<text x="151.4" y="605.82" font-size="8" text-anchor="end" >0.4</text>
<line x1="154.6" y1="589.48" x2="157.6" y2="589.48" stroke="#2b2b2b" stroke-width="1" />
<text x="151.4" y="592.48" font-size="8" text-anchor="end" >0.6</text>
<line x1="154.6" y1="576.14" x2="157.6" y2="576.14" stroke="#2b2b2b" stroke-width="1" />
<text x="151.4" y="579.14" font-size="8" text-anchor="end" >0.8</text>
<line x1="154.6" y1="562.8" x2="157.6" y2="562.8" stroke="#2b2b2b" stroke-width="1" />
<text x="151.4" y="565.8" font-size="8" text-anchor="end" >1.0</text>
<line x1="189.2" y1="597.6" x2="189.2" y2="594" stroke="#333" stroke-width="1" />
<line x1="183.4" y1="594" x2="195" y2="594" stroke="#333" stroke-width="1.1" />
<rect x="176.8" y="597.6" width="24.8" height="31.9" fill="#a6002c"/>
<line x1="226.85" y1="590.8" x2="226.85" y2="576" stroke="#333" stroke-width="1" />
<line x1="221.05" y1="576" x2="232.65" y2="576" stroke="#333" stroke-width="1.1" />
<rect x="214.6" y="590.8" width="24.5" height="38.7" fill="#284b8a"/>
<line x1="157.6" y1="629.5" x2="257.9" y2="629.5" stroke="#2b2b2b" stroke-width="1.1" />
<line x1="189.2" y1="629.5" x2="189.2" y2="631.7" stroke="#2b2b2b" stroke-width="1" />
<line x1="226.7" y1="629.5" x2="226.7" y2="631.7" stroke="#2b2b2b" stroke-width="1" />
<text x="134.7" y="597" font-size="9" text-anchor="middle" textLength="68" lengthAdjust="spacingAndGlyphs" transform="rotate(-90 134.7 597)" >% cl. caspase 3 positive</text>
<text x="301.5" y="554.5" font-size="11.2" font-weight="bold" fill="#000" >J</text>
<line x1="342.7" y1="556" x2="342.7" y2="676.3" stroke="#2b2b2b" stroke-width="1.1" />
<line x1="339.5" y1="558.3" x2="342.7" y2="558.3" stroke="#2b2b2b" stroke-width="1" />
<text x="337.8" y="561.5" font-size="8.8" text-anchor="end" >100</text>
<line x1="339.5" y1="617.3" x2="342.7" y2="617.3" stroke="#2b2b2b" stroke-width="1" />
<text x="337.8" y="620.5" font-size="8.8" text-anchor="end" >50</text>
<line x1="342.7" y1="676.3" x2="458.4" y2="676.3" stroke="#2b2b2b" stroke-width="1.1" />
<line x1="342.7" y1="676.3" x2="342.7" y2="678.5" stroke="#2b2b2b" stroke-width="1" />
<text x="346.9" y="685.7" font-size="8" text-anchor="end" transform="rotate(-45 346.9 685.7)">0</text>
<line x1="358.95" y1="676.3" x2="358.95" y2="678.5" stroke="#2b2b2b" stroke-width="1" />
<text x="363.15" y="685.7" font-size="8" text-anchor="end" transform="rotate(-45 363.15 685.7)">100</text>
<line x1="375.2" y1="676.3" x2="375.2" y2="678.5" stroke="#2b2b2b" stroke-width="1" />
<text x="379.4" y="685.7" font-size="8" text-anchor="end" transform="rotate(-45 379.4 685.7)">200</text>
<line x1="391.45" y1="676.3" x2="391.45" y2="678.5" stroke="#2b2b2b" stroke-width="1" />
<text x="395.65" y="685.7" font-size="8" text-anchor="end" transform="rotate(-45 395.65 685.7)">300</text>
<line x1="407.7" y1="676.3" x2="407.7" y2="678.5" stroke="#2b2b2b" stroke-width="1" />
<text x="411.9" y="685.7" font-size="8" text-anchor="end" transform="rotate(-45 411.9 685.7)">400</text>
<line x1="423.95" y1="676.3" x2="423.95" y2="678.5" stroke="#2b2b2b" stroke-width="1" />
<text x="428.15" y="685.7" font-size="8" text-anchor="end" transform="rotate(-45 428.15 685.7)">500</text>
<line x1="440.2" y1="676.3" x2="440.2" y2="678.5" stroke="#2b2b2b" stroke-width="1" />
<text x="444.4" y="685.7" font-size="8" text-anchor="end" transform="rotate(-45 444.4 685.7)">600</text>
<line x1="456.45" y1="676.3" x2="456.45" y2="678.5" stroke="#2b2b2b" stroke-width="1" />
<text x="460.65" y="685.7" font-size="8" text-anchor="end" transform="rotate(-45 460.65 685.7)">700</text>
<text x="465.6" y="685.4" font-size="7.7" >(days)</text>
<text x="316.1" y="615.6" font-size="9.5" text-anchor="middle" textLength="47.5" lengthAdjust="spacingAndGlyphs" transform="rotate(-90 316.1 615.6)" >Percent survival</text>
<line x1="342.7" y1="617.3" x2="456.2" y2="617.3" stroke="#333" stroke-width="1" stroke-dasharray="1.2 1.9"/>
<path d="M342.7,558.3 H375.2 V561.7 H380.2 V565.5 H382.1 V569.2 H388.2 V573.2 H389.4 V579.5 H390.8 V583.2 H392.2 V587.4 H394 V590.5 H395.7 V593.6 H396.9 V597.5 H397.7 V601.3 H398.6 V608.1 H400.3 V615.4 H403.3 V617.1 H405 V622.2 H407.6 V624.3 H408.9 V630 H409.7 V636.9 H413 V647 H417.7 V652 H418.3 V665.8 H421.5 V672 H439 V676.3" fill="none" stroke="#c8203c" stroke-width="1.3"/>
<path d="M342.7,558.3 H360.8 V561.7 H370.2 V565.1 H372.9 V571.8 H376.7 V575.2 H385.2 V582.1 H393.1 V585.5 H395.2 V588.5 H396.3 V592 H397.3 V595 H398.3 V598.3 H399.2 V601.5 H399.9 V605.4 H401.5 V608.5 H403.3 V612.4 H405 V619.2 H408.4 V625.6 H411 V629.9 H412.3 V636 H413 V641 H414.5 V647 H416 V650 H418 V662.5 H422.3 V667.5 H427.7 V672 H430 V676.3" fill="none" stroke="#3558a0" stroke-width="1.3"/>
<line x1="351.3" y1="557" x2="351.3" y2="559.6" stroke="#3558a0" stroke-width="0.8" />
<line x1="355.6" y1="557" x2="355.6" y2="559.6" stroke="#3558a0" stroke-width="0.8" />
<line x1="364.2" y1="557" x2="364.2" y2="559.6" stroke="#c8203c" stroke-width="0.8" />
<line x1="374.4" y1="557" x2="374.4" y2="559.6" stroke="#c8203c" stroke-width="0.8" />
<text x="465.2" y="562.4" font-size="8" text-anchor="middle" textLength="72.7" lengthAdjust="spacingAndGlyphs" >Median Survival (days)</text>
<line x1="408" y1="573.8" x2="414.3" y2="573.8" stroke="#c8203c" stroke-width="1.5" />
<g transform="translate(418 577)"><text x="-0.2" y="0.1" font-size="8" font-style="italic" textLength="16.9" lengthAdjust="spacingAndGlyphs">TCL1</text><text x="17.5" y="-2.8" font-size="5.4" font-style="italic" class="sup" textLength="12.5" lengthAdjust="spacingAndGlyphs">tg/wt</text><text x="32" y="0" font-size="7.5" textLength="42.3" lengthAdjust="spacingAndGlyphs">381 (n = 39)</text></g>
<line x1="408" y1="586.9" x2="414.3" y2="586.9" stroke="#3558a0" stroke-width="1.5" />
<g transform="translate(418 590.1)"><text x="-0.2" y="0.1" font-size="8" font-style="italic" textLength="16.9" lengthAdjust="spacingAndGlyphs">TCL1</text><text x="17.5" y="-2.8" font-size="5.4" font-style="italic" class="sup" textLength="12.5" lengthAdjust="spacingAndGlyphs">tg/wt</text><text x="31" y="0" font-size="7.7" textLength="10.9" lengthAdjust="spacingAndGlyphs">Lyn</text><text x="42.3" y="-2.8" font-size="5.4" class="sup" textLength="10.3" lengthAdjust="spacingAndGlyphs">up-B</text><text x="55.9" y="0" font-size="7.5" textLength="42.6" lengthAdjust="spacingAndGlyphs">388 (n = 37)</text></g>
</g>
<rect x="0.5" y="0.5" width="519" height="703" fill="none" stroke="#000" stroke-width="1.2"/>
</svg>
</body></html>
